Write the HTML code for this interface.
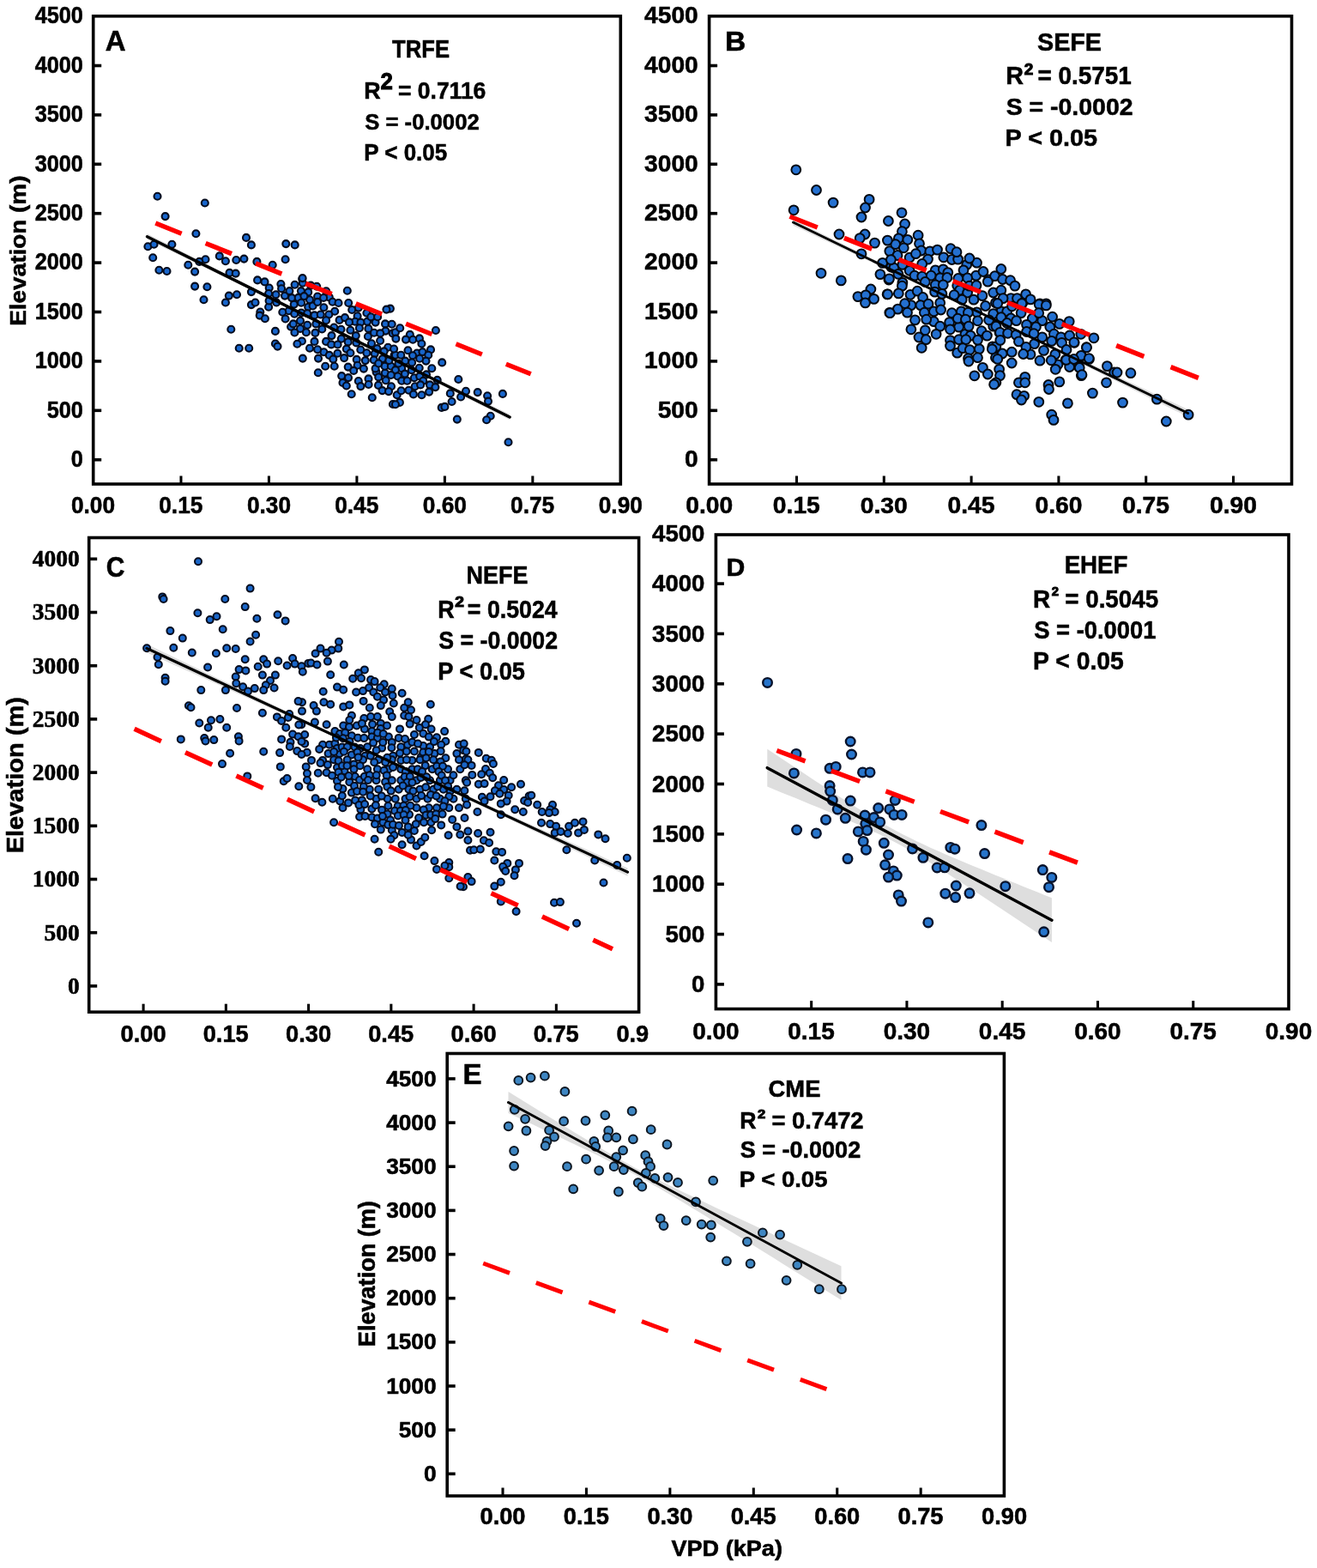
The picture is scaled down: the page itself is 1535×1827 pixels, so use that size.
<!DOCTYPE html>
<html><head><meta charset="utf-8"><title>VPD vs Elevation</title>
<style>html,body{margin:0;padding:0;background:#fff;} svg{display:block;filter:blur(0.60px);}</style></head>
<body><svg width="1535" height="1827" viewBox="0 0 1535 1827">
<rect width="1535" height="1827" fill="#fff"/>
<polygon points="171.5,272.3 182.1,277.7 192.6,283.1 203.2,288.5 213.8,293.8 224.3,299.2 234.9,304.6 245.5,310.0 256.0,315.4 266.6,320.7 277.1,326.1 287.7,331.5 298.3,336.8 308.8,342.2 319.4,347.5 330.0,352.8 340.5,358.2 351.1,363.5 361.7,368.8 372.2,374.1 382.8,379.3 393.4,384.6 403.9,389.9 414.5,395.1 425.1,400.3 435.6,405.5 446.2,410.7 456.8,415.9 467.3,421.1 477.9,426.2 488.4,431.4 499.0,436.5 509.6,441.7 520.1,446.8 530.7,452.0 541.3,457.1 551.8,462.3 562.4,467.4 573.0,472.5 583.5,477.6 594.1,482.8 594.1,489.2 583.5,483.8 573.0,478.5 562.4,473.1 551.8,467.7 541.3,462.3 530.7,456.9 520.1,451.6 509.6,446.2 499.0,440.8 488.4,435.5 477.9,430.1 467.3,424.8 456.8,419.4 446.2,414.1 435.6,408.8 425.1,403.5 414.5,398.2 403.9,392.9 393.4,387.6 382.8,382.4 372.2,377.1 361.7,371.9 351.1,366.7 340.5,361.5 330.0,356.3 319.4,351.1 308.8,345.9 298.3,340.8 287.7,335.6 277.1,330.5 266.6,325.3 256.0,320.2 245.5,315.0 234.9,309.9 224.3,304.7 213.8,299.6 203.2,294.5 192.6,289.4 182.1,284.2 171.5,279.1" fill="#dedede"/>
<g fill="#1866cc" stroke="#050c1e" stroke-width="2.1">
<circle cx="183.5" cy="228.7" r="4.0"/><circle cx="238.8" cy="236.5" r="4.0"/><circle cx="192.6" cy="252.1" r="4.0"/><circle cx="228.4" cy="272.3" r="4.0"/><circle cx="172.4" cy="287.3" r="4.0"/><circle cx="179.5" cy="284.7" r="4.0"/><circle cx="200.4" cy="284.7" r="4.0"/><circle cx="178.2" cy="300.3" r="4.0"/><circle cx="185.4" cy="314.7" r="4.0"/><circle cx="194.5" cy="316.0" r="4.0"/><circle cx="219.3" cy="308.8" r="4.0"/><circle cx="227.1" cy="316.6" r="4.0"/><circle cx="239.5" cy="302.3" r="4.0"/><circle cx="232.3" cy="304.9" r="4.0"/><circle cx="255.8" cy="298.4" r="4.0"/><circle cx="262.9" cy="304.3" r="4.0"/><circle cx="275.3" cy="303.0" r="4.0"/><circle cx="284.4" cy="301.6" r="4.0"/><circle cx="287.0" cy="276.9" r="4.0"/><circle cx="292.9" cy="285.4" r="4.0"/><circle cx="333.3" cy="284.1" r="4.0"/><circle cx="343.7" cy="285.4" r="4.0"/><circle cx="332.6" cy="302.3" r="4.0"/><circle cx="299.4" cy="304.9" r="4.0"/><circle cx="317.7" cy="308.8" r="4.0"/><circle cx="267.5" cy="317.9" r="4.0"/><circle cx="274.7" cy="318.6" r="4.0"/><circle cx="227.1" cy="333.6" r="4.0"/><circle cx="241.4" cy="334.2" r="4.0"/><circle cx="237.5" cy="349.2" r="4.0"/><circle cx="266.8" cy="344.6" r="4.0"/><circle cx="276.0" cy="343.3" r="4.0"/><circle cx="262.9" cy="352.5" r="4.0"/><circle cx="300.1" cy="326.4" r="4.0"/><circle cx="308.5" cy="328.4" r="4.0"/><circle cx="313.7" cy="335.5" r="4.0"/><circle cx="327.4" cy="331.0" r="4.0"/><circle cx="328.1" cy="336.2" r="4.0"/><circle cx="352.2" cy="325.1" r="4.0"/><circle cx="352.8" cy="329.7" r="4.0"/><circle cx="292.9" cy="340.1" r="4.0"/><circle cx="313.1" cy="342.0" r="4.0"/><circle cx="321.6" cy="343.3" r="4.0"/><circle cx="332.0" cy="344.6" r="4.0"/><circle cx="292.9" cy="355.1" r="4.0"/><circle cx="297.5" cy="352.5" r="4.0"/><circle cx="313.1" cy="357.7" r="4.0"/><circle cx="322.2" cy="352.5" r="4.0"/><circle cx="336.5" cy="362.2" r="4.0"/><circle cx="303.3" cy="363.5" r="4.0"/><circle cx="352.6" cy="324.1" r="4.0"/><circle cx="370.8" cy="434.2" r="4.0"/><circle cx="398.2" cy="438.1" r="4.0"/><circle cx="406.0" cy="440.1" r="4.0"/><circle cx="417.8" cy="444.0" r="4.0"/><circle cx="429.5" cy="441.4" r="4.0"/><circle cx="438.6" cy="433.6" r="4.0"/><circle cx="441.2" cy="439.4" r="4.0"/><circle cx="449.7" cy="443.3" r="4.0"/><circle cx="399.5" cy="445.9" r="4.0"/><circle cx="403.8" cy="449.5" r="4.0"/><circle cx="409.7" cy="459.3" r="4.0"/><circle cx="441.0" cy="448.9" r="4.0"/><circle cx="448.8" cy="434.6" r="4.0"/><circle cx="433.8" cy="463.2" r="4.0"/><circle cx="457.9" cy="471.0" r="4.0"/><circle cx="532.8" cy="488.6" r="4.0"/><circle cx="571.7" cy="484.7" r="4.0"/><circle cx="567.1" cy="489.2" r="4.0"/><circle cx="592.5" cy="515.3" r="4.0"/><circle cx="313.6" cy="350.4" r="4.0"/><circle cx="302.7" cy="367.6" r="4.0"/><circle cx="308.9" cy="371.3" r="4.0"/><circle cx="339.1" cy="380.7" r="4.0"/><circle cx="269.3" cy="383.8" r="4.0"/><circle cx="320.9" cy="385.9" r="4.0"/><circle cx="320.9" cy="400.5" r="4.0"/><circle cx="323.5" cy="403.6" r="4.0"/><circle cx="278.7" cy="405.7" r="4.0"/><circle cx="290.2" cy="405.7" r="4.0"/><circle cx="343.6" cy="331.8" r="4.0"/><circle cx="350.9" cy="339.1" r="4.0"/><circle cx="361.0" cy="349.2" r="4.0"/><circle cx="370.1" cy="345.5" r="4.0"/><circle cx="383.8" cy="346.4" r="4.0"/><circle cx="404.8" cy="338.7" r="4.0"/><circle cx="342.7" cy="354.6" r="4.0"/><circle cx="359.2" cy="357.8" r="4.0"/><circle cx="364.6" cy="356.5" r="4.0"/><circle cx="370.1" cy="351.9" r="4.0"/><circle cx="377.4" cy="358.3" r="4.0"/><circle cx="390.2" cy="362.8" r="4.0"/><circle cx="410.2" cy="361.0" r="4.0"/><circle cx="454.9" cy="359.6" r="4.0"/><circle cx="450.4" cy="360.6" r="4.0"/><circle cx="366.5" cy="367.4" r="4.0"/><circle cx="373.7" cy="366.5" r="4.0"/><circle cx="383.3" cy="366.5" r="4.0"/><circle cx="395.6" cy="372.9" r="4.0"/><circle cx="402.0" cy="370.1" r="4.0"/><circle cx="416.6" cy="368.3" r="4.0"/><circle cx="413.9" cy="374.7" r="4.0"/><circle cx="380.1" cy="373.3" r="4.0"/><circle cx="350.0" cy="373.8" r="4.0"/><circle cx="341.8" cy="377.4" r="4.0"/><circle cx="358.2" cy="378.8" r="4.0"/><circle cx="368.3" cy="377.4" r="4.0"/><circle cx="428.0" cy="374.7" r="4.0"/><circle cx="437.6" cy="375.6" r="4.0"/><circle cx="449.0" cy="377.4" r="4.0"/><circle cx="350.0" cy="382.9" r="4.0"/><circle cx="389.3" cy="381.5" r="4.0"/><circle cx="397.5" cy="383.8" r="4.0"/><circle cx="408.4" cy="384.7" r="4.0"/><circle cx="429.4" cy="382.9" r="4.0"/><circle cx="449.4" cy="385.6" r="4.0"/><circle cx="457.7" cy="388.4" r="4.0"/><circle cx="367.4" cy="387.9" r="4.0"/><circle cx="386.5" cy="391.1" r="4.0"/><circle cx="414.8" cy="391.1" r="4.0"/><circle cx="428.9" cy="392.0" r="4.0"/><circle cx="443.1" cy="397.0" r="4.0"/><circle cx="351.9" cy="397.5" r="4.0"/><circle cx="346.4" cy="400.7" r="4.0"/><circle cx="366.5" cy="397.9" r="4.0"/><circle cx="380.1" cy="397.9" r="4.0"/><circle cx="405.7" cy="398.4" r="4.0"/><circle cx="433.0" cy="400.2" r="4.0"/><circle cx="452.2" cy="404.8" r="4.0"/><circle cx="403.8" cy="406.6" r="4.0"/><circle cx="420.3" cy="407.5" r="4.0"/><circle cx="377.4" cy="410.3" r="4.0"/><circle cx="408.4" cy="411.2" r="4.0"/><circle cx="436.7" cy="412.1" r="4.0"/><circle cx="447.6" cy="409.4" r="4.0"/><circle cx="459.5" cy="413.9" r="4.0"/><circle cx="352.8" cy="417.6" r="4.0"/><circle cx="371.0" cy="417.6" r="4.0"/><circle cx="383.8" cy="413.9" r="4.0"/><circle cx="388.3" cy="418.5" r="4.0"/><circle cx="401.1" cy="417.1" r="4.0"/><circle cx="415.7" cy="418.9" r="4.0"/><circle cx="435.8" cy="419.4" r="4.0"/><circle cx="379.2" cy="426.7" r="4.0"/><circle cx="389.7" cy="426.7" r="4.0"/><circle cx="405.7" cy="427.6" r="4.0"/><circle cx="416.6" cy="425.8" r="4.0"/><circle cx="437.6" cy="429.4" r="4.0"/><circle cx="448.5" cy="426.7" r="4.0"/><circle cx="455.8" cy="426.7" r="4.0"/><circle cx="507.9" cy="385.0" r="4.0"/><circle cx="460.9" cy="387.3" r="4.0"/><circle cx="461.4" cy="394.6" r="4.0"/><circle cx="475.5" cy="408.3" r="4.0"/><circle cx="486.0" cy="411.5" r="4.0"/><circle cx="492.4" cy="410.1" r="4.0"/><circle cx="502.0" cy="407.4" r="4.0"/><circle cx="499.2" cy="413.7" r="4.0"/><circle cx="481.0" cy="414.2" r="4.0"/><circle cx="460.9" cy="413.7" r="4.0"/><circle cx="467.3" cy="413.7" r="4.0"/><circle cx="472.3" cy="420.6" r="4.0"/><circle cx="480.1" cy="422.4" r="4.0"/><circle cx="496.5" cy="420.6" r="4.0"/><circle cx="515.2" cy="422.4" r="4.0"/><circle cx="503.3" cy="429.3" r="4.0"/><circle cx="488.7" cy="428.8" r="4.0"/><circle cx="468.2" cy="429.3" r="4.0"/><circle cx="460.9" cy="431.1" r="4.0"/><circle cx="471.9" cy="435.6" r="4.0"/><circle cx="463.6" cy="438.4" r="4.0"/><circle cx="482.8" cy="440.2" r="4.0"/><circle cx="489.2" cy="438.4" r="4.0"/><circle cx="468.2" cy="443.8" r="4.0"/><circle cx="474.6" cy="443.8" r="4.0"/><circle cx="493.3" cy="443.8" r="4.0"/><circle cx="509.7" cy="442.9" r="4.0"/><circle cx="534.3" cy="442.0" r="4.0"/><circle cx="483.7" cy="450.2" r="4.0"/><circle cx="490.1" cy="448.4" r="4.0"/><circle cx="501.0" cy="448.4" r="4.0"/><circle cx="507.4" cy="451.1" r="4.0"/><circle cx="476.4" cy="454.8" r="4.0"/><circle cx="481.9" cy="459.4" r="4.0"/><circle cx="491.5" cy="460.3" r="4.0"/><circle cx="500.1" cy="456.6" r="4.0"/><circle cx="462.7" cy="460.3" r="4.0"/><circle cx="465.9" cy="468.9" r="4.0"/><circle cx="460.9" cy="471.2" r="4.0"/><circle cx="524.8" cy="458.4" r="4.0"/><circle cx="543.0" cy="455.7" r="4.0"/><circle cx="537.1" cy="462.5" r="4.0"/><circle cx="556.7" cy="457.1" r="4.0"/><circle cx="568.1" cy="461.2" r="4.0"/><circle cx="569.0" cy="467.6" r="4.0"/><circle cx="585.9" cy="458.9" r="4.0"/><circle cx="526.6" cy="468.0" r="4.0"/><circle cx="514.7" cy="474.9" r="4.0"/><circle cx="518.4" cy="473.9" r="4.0"/><circle cx="362.2" cy="332.6" r="4.0"/><circle cx="369.2" cy="333.8" r="4.0"/><circle cx="337.4" cy="339.1" r="4.0"/><circle cx="359.2" cy="340.4" r="4.0"/><circle cx="380.2" cy="339.3" r="4.0"/><circle cx="340.1" cy="347.1" r="4.0"/><circle cx="347.7" cy="346.9" r="4.0"/><circle cx="354.4" cy="345.1" r="4.0"/><circle cx="377.1" cy="347.0" r="4.0"/><circle cx="351.1" cy="352.7" r="4.0"/><circle cx="387.6" cy="351.7" r="4.0"/><circle cx="394.5" cy="353.0" r="4.0"/><circle cx="406.2" cy="353.0" r="4.0"/><circle cx="417.8" cy="358.6" r="4.0"/><circle cx="329.3" cy="363.8" r="4.0"/><circle cx="343.2" cy="365.7" r="4.0"/><circle cx="351.2" cy="364.5" r="4.0"/><circle cx="358.2" cy="365.2" r="4.0"/><circle cx="427.4" cy="364.8" r="4.0"/><circle cx="332.6" cy="371.5" r="4.0"/><circle cx="432.3" cy="369.2" r="4.0"/><circle cx="440.1" cy="369.2" r="4.0"/><circle cx="407.0" cy="375.4" r="4.0"/><circle cx="420.4" cy="375.6" r="4.0"/><circle cx="456.7" cy="377.8" r="4.0"/><circle cx="375.3" cy="383.5" r="4.0"/><circle cx="418.9" cy="382.2" r="4.0"/><circle cx="466.2" cy="382.3" r="4.0"/><circle cx="343.4" cy="387.5" r="4.0"/><circle cx="356.9" cy="387.3" r="4.0"/><circle cx="436.0" cy="387.8" r="4.0"/><circle cx="443.2" cy="388.4" r="4.0"/><circle cx="477.8" cy="389.9" r="4.0"/><circle cx="397.8" cy="394.7" r="4.0"/><circle cx="473.0" cy="395.6" r="4.0"/><circle cx="481.2" cy="395.7" r="4.0"/><circle cx="488.9" cy="394.4" r="4.0"/><circle cx="386.1" cy="401.4" r="4.0"/><circle cx="393.6" cy="401.5" r="4.0"/><circle cx="415.3" cy="399.4" r="4.0"/><circle cx="491.4" cy="400.5" r="4.0"/><circle cx="361.0" cy="405.7" r="4.0"/><circle cx="370.1" cy="407.3" r="4.0"/><circle cx="439.5" cy="406.1" r="4.0"/><circle cx="459.1" cy="406.5" r="4.0"/><circle cx="393.4" cy="411.7" r="4.0"/><circle cx="427.4" cy="411.3" r="4.0"/><circle cx="425.8" cy="420.1" r="4.0"/><circle cx="445.8" cy="418.1" r="4.0"/><circle cx="453.4" cy="420.0" r="4.0"/><circle cx="489.1" cy="417.8" r="4.0"/><circle cx="441.2" cy="423.5" r="4.0"/><circle cx="464.4" cy="423.5" r="4.0"/><circle cx="412.2" cy="431.9" r="4.0"/><circle cx="423.9" cy="429.6" r="4.0"/><circle cx="479.7" cy="431.2" r="4.0"/><circle cx="455.7" cy="437.0" r="4.0"/><circle cx="497.0" cy="436.4" r="4.0"/><circle cx="420.4" cy="450.1" r="4.0"/><circle cx="429.6" cy="448.0" r="4.0"/><circle cx="456.0" cy="450.2" r="4.0"/><circle cx="445.6" cy="455.1" r="4.0"/><circle cx="453.0" cy="456.1" r="4.0"/><circle cx="467.6" cy="455.3" r="4.0"/>
</g>
<line x1="171.5" y1="275.7" x2="594.1" y2="486.0" stroke="#000" stroke-width="3.4" stroke-linecap="round"/>
<line x1="181.3" y1="260.0" x2="618.7" y2="435.8" stroke="#ff0000" stroke-width="5.5" stroke-dasharray="32.7 30.2"/>
<polygon points="924.4,255.5 935.9,261.2 947.4,266.9 958.9,272.7 970.4,278.4 981.9,284.1 993.4,289.8 1005.0,295.5 1016.5,301.2 1028.0,306.9 1039.5,312.6 1051.0,318.3 1062.5,324.0 1074.0,329.6 1085.5,335.3 1097.0,340.9 1108.5,346.5 1120.0,352.1 1131.5,357.7 1143.0,363.2 1154.5,368.7 1166.1,374.3 1177.6,379.7 1189.1,385.2 1200.6,390.7 1212.1,396.1 1223.6,401.5 1235.1,407.0 1246.6,412.4 1258.1,417.8 1269.6,423.2 1281.1,428.6 1292.6,434.0 1304.1,439.4 1315.7,444.8 1327.2,450.2 1338.7,455.6 1350.2,461.0 1361.7,466.4 1373.2,471.8 1384.7,477.2 1384.7,485.8 1373.2,480.1 1361.7,474.4 1350.2,468.6 1338.7,462.9 1327.2,457.2 1315.7,451.5 1304.1,445.7 1292.6,440.0 1281.1,434.3 1269.6,428.6 1258.1,422.9 1246.6,417.2 1235.1,411.5 1223.6,405.8 1212.1,400.1 1200.6,394.4 1189.1,388.8 1177.6,383.1 1166.1,377.5 1154.5,371.9 1143.0,366.3 1131.5,360.7 1120.0,355.1 1108.5,349.6 1097.0,344.1 1085.5,338.6 1074.0,333.1 1062.5,327.7 1051.0,322.2 1039.5,316.8 1028.0,311.4 1016.5,305.9 1005.0,300.5 993.4,295.1 981.9,289.7 970.4,284.3 958.9,278.9 947.4,273.5 935.9,268.1 924.4,262.7" fill="#dedede"/>
<g fill="#2470d0" stroke="#04080f" stroke-width="2.0">
<circle cx="927.8" cy="197.8" r="5.4"/><circle cx="951.5" cy="221.5" r="5.4"/><circle cx="971.1" cy="236.1" r="5.4"/><circle cx="925.1" cy="244.8" r="5.4"/><circle cx="1013.1" cy="232.4" r="5.4"/><circle cx="1008.5" cy="242.0" r="5.4"/><circle cx="1004.0" cy="253.0" r="5.4"/><circle cx="1035.4" cy="257.5" r="5.4"/><circle cx="978.0" cy="273.0" r="5.4"/><circle cx="1008.1" cy="273.0" r="5.4"/><circle cx="1002.2" cy="277.6" r="5.4"/><circle cx="1019.5" cy="283.1" r="5.4"/><circle cx="1036.8" cy="292.6" r="5.4"/><circle cx="1004.0" cy="295.8" r="5.4"/><circle cx="957.0" cy="318.3" r="5.4"/><circle cx="980.3" cy="326.9" r="5.4"/><circle cx="1028.6" cy="306.4" r="5.4"/><circle cx="1025.9" cy="319.6" r="5.4"/><circle cx="1035.9" cy="326.0" r="5.4"/><circle cx="1014.9" cy="337.0" r="5.4"/><circle cx="999.9" cy="345.6" r="5.4"/><circle cx="1009.0" cy="343.8" r="5.4"/><circle cx="1018.6" cy="348.4" r="5.4"/><circle cx="1008.5" cy="352.9" r="5.4"/><circle cx="1034.1" cy="342.9" r="5.4"/><circle cx="1036.8" cy="364.3" r="5.4"/><circle cx="1038.6" cy="311.0" r="5.4"/><circle cx="1051.0" cy="247.8" r="5.4"/><circle cx="1054.6" cy="261.0" r="5.4"/><circle cx="1051.4" cy="269.7" r="5.4"/><circle cx="1070.1" cy="274.2" r="5.4"/><circle cx="1047.3" cy="277.9" r="5.4"/><circle cx="1057.8" cy="279.3" r="5.4"/><circle cx="1071.5" cy="283.8" r="5.4"/><circle cx="1043.7" cy="284.7" r="5.4"/><circle cx="1053.3" cy="288.8" r="5.4"/><circle cx="1073.8" cy="292.0" r="5.4"/><circle cx="1083.8" cy="292.9" r="5.4"/><circle cx="1092.5" cy="291.1" r="5.4"/><circle cx="1108.0" cy="289.7" r="5.4"/><circle cx="1046.0" cy="297.5" r="5.4"/><circle cx="1060.1" cy="300.2" r="5.4"/><circle cx="1067.4" cy="295.7" r="5.4"/><circle cx="1081.5" cy="302.1" r="5.4"/><circle cx="1099.8" cy="299.8" r="5.4"/><circle cx="1109.4" cy="302.5" r="5.4"/><circle cx="1116.6" cy="302.1" r="5.4"/><circle cx="1138.5" cy="306.2" r="5.4"/><circle cx="1126.7" cy="308.4" r="5.4"/><circle cx="1041.9" cy="312.1" r="5.4"/><circle cx="1051.9" cy="308.4" r="5.4"/><circle cx="1060.1" cy="315.3" r="5.4"/><circle cx="1074.7" cy="307.5" r="5.4"/><circle cx="1090.2" cy="314.8" r="5.4"/><circle cx="1099.3" cy="313.9" r="5.4"/><circle cx="1104.8" cy="317.6" r="5.4"/><circle cx="1123.0" cy="314.8" r="5.4"/><circle cx="1137.6" cy="321.2" r="5.4"/><circle cx="1127.6" cy="323.9" r="5.4"/><circle cx="1152.2" cy="325.8" r="5.4"/><circle cx="1159.5" cy="321.7" r="5.4"/><circle cx="1166.8" cy="313.5" r="5.4"/><circle cx="1036.4" cy="324.9" r="5.4"/><circle cx="1066.0" cy="321.2" r="5.4"/><circle cx="1074.7" cy="322.1" r="5.4"/><circle cx="1085.2" cy="321.2" r="5.4"/><circle cx="1095.7" cy="323.9" r="5.4"/><circle cx="1103.9" cy="323.5" r="5.4"/><circle cx="1051.9" cy="329.4" r="5.4"/><circle cx="1078.3" cy="328.5" r="5.4"/><circle cx="1051.4" cy="333.2" r="5.4"/><circle cx="1034.6" cy="342.8" r="5.4"/><circle cx="1047.3" cy="341.9" r="5.4"/><circle cx="1061.0" cy="343.3" r="5.4"/><circle cx="1069.2" cy="339.2" r="5.4"/><circle cx="1075.6" cy="346.5" r="5.4"/><circle cx="1061.9" cy="355.6" r="5.4"/><circle cx="1054.6" cy="353.7" r="5.4"/><circle cx="1072.9" cy="355.6" r="5.4"/><circle cx="1082.0" cy="354.2" r="5.4"/><circle cx="1046.4" cy="360.1" r="5.4"/><circle cx="1037.3" cy="364.7" r="5.4"/><circle cx="1077.4" cy="364.2" r="5.4"/><circle cx="1088.4" cy="362.9" r="5.4"/><circle cx="1095.7" cy="352.8" r="5.4"/><circle cx="1096.6" cy="361.0" r="5.4"/><circle cx="1109.4" cy="364.7" r="5.4"/><circle cx="1120.3" cy="362.9" r="5.4"/><circle cx="1066.5" cy="372.9" r="5.4"/><circle cx="1088.4" cy="374.7" r="5.4"/><circle cx="1106.6" cy="375.6" r="5.4"/><circle cx="1095.7" cy="380.2" r="5.4"/><circle cx="1061.9" cy="383.8" r="5.4"/><circle cx="1078.3" cy="384.8" r="5.4"/><circle cx="1091.1" cy="389.3" r="5.4"/><circle cx="1117.6" cy="381.1" r="5.4"/><circle cx="1071.0" cy="393.0" r="5.4"/><circle cx="1079.3" cy="395.7" r="5.4"/><circle cx="1107.5" cy="383.8" r="5.4"/><circle cx="1107.5" cy="396.6" r="5.4"/><circle cx="1124.9" cy="389.3" r="5.4"/><circle cx="1131.2" cy="391.1" r="5.4"/><circle cx="1117.6" cy="395.7" r="5.4"/><circle cx="1125.8" cy="395.7" r="5.4"/><circle cx="1074.2" cy="405.3" r="5.4"/><circle cx="1107.5" cy="403.0" r="5.4"/><circle cx="1115.7" cy="411.2" r="5.4"/><circle cx="1122.1" cy="405.7" r="5.4"/><circle cx="1130.3" cy="407.6" r="5.4"/><circle cx="1141.3" cy="406.6" r="5.4"/><circle cx="1128.5" cy="417.6" r="5.4"/><circle cx="1139.5" cy="416.7" r="5.4"/><circle cx="1090.2" cy="331.9" r="5.4"/><circle cx="1099.3" cy="331.9" r="5.4"/><circle cx="1115.7" cy="332.8" r="5.4"/><circle cx="1151.3" cy="328.2" r="5.4"/><circle cx="1168.6" cy="325.5" r="5.4"/><circle cx="1118.5" cy="338.2" r="5.4"/><circle cx="1127.6" cy="341.0" r="5.4"/><circle cx="1134.9" cy="349.2" r="5.4"/><circle cx="1121.2" cy="349.2" r="5.4"/><circle cx="1112.1" cy="343.7" r="5.4"/><circle cx="1144.9" cy="344.6" r="5.4"/><circle cx="1157.7" cy="341.0" r="5.4"/><circle cx="1166.8" cy="338.2" r="5.4"/><circle cx="1148.6" cy="356.5" r="5.4"/><circle cx="1160.4" cy="352.8" r="5.4"/><circle cx="1166.8" cy="362.9" r="5.4"/><circle cx="1157.7" cy="365.6" r="5.4"/><circle cx="1138.5" cy="363.8" r="5.4"/><circle cx="1139.5" cy="373.8" r="5.4"/><circle cx="1157.7" cy="380.2" r="5.4"/><circle cx="1144.0" cy="385.7" r="5.4"/><circle cx="1150.4" cy="391.1" r="5.4"/><circle cx="1165.0" cy="387.5" r="5.4"/><circle cx="1156.8" cy="403.9" r="5.4"/><circle cx="1166.8" cy="412.1" r="5.4"/><circle cx="1160.4" cy="416.7" r="5.4"/><circle cx="1178.2" cy="347.6" r="5.4"/><circle cx="1185.5" cy="347.6" r="5.4"/><circle cx="1191.9" cy="353.0" r="5.4"/><circle cx="1212.0" cy="353.9" r="5.4"/><circle cx="1219.3" cy="353.9" r="5.4"/><circle cx="1169.1" cy="347.6" r="5.4"/><circle cx="1162.7" cy="353.6" r="5.4"/><circle cx="1173.7" cy="362.8" r="5.4"/><circle cx="1191.0" cy="353.6" r="5.4"/><circle cx="1190.1" cy="364.6" r="5.4"/><circle cx="1211.1" cy="354.6" r="5.4"/><circle cx="1219.3" cy="355.9" r="5.4"/><circle cx="1226.6" cy="369.2" r="5.4"/><circle cx="1166.8" cy="369.6" r="5.4"/><circle cx="1178.2" cy="371.0" r="5.4"/><circle cx="1184.6" cy="373.7" r="5.4"/><circle cx="1203.3" cy="371.0" r="5.4"/><circle cx="1214.7" cy="373.7" r="5.4"/><circle cx="1234.8" cy="377.4" r="5.4"/><circle cx="1246.2" cy="374.6" r="5.4"/><circle cx="1160.9" cy="380.1" r="5.4"/><circle cx="1173.7" cy="376.5" r="5.4"/><circle cx="1196.5" cy="378.3" r="5.4"/><circle cx="1207.4" cy="381.0" r="5.4"/><circle cx="1223.8" cy="381.0" r="5.4"/><circle cx="1165.5" cy="387.4" r="5.4"/><circle cx="1174.6" cy="388.3" r="5.4"/><circle cx="1184.2" cy="390.1" r="5.4"/><circle cx="1196.5" cy="386.5" r="5.4"/><circle cx="1214.7" cy="392.9" r="5.4"/><circle cx="1228.4" cy="389.2" r="5.4"/><circle cx="1236.6" cy="392.9" r="5.4"/><circle cx="1246.6" cy="391.0" r="5.4"/><circle cx="1274.9" cy="393.8" r="5.4"/><circle cx="1187.4" cy="397.9" r="5.4"/><circle cx="1205.6" cy="400.6" r="5.4"/><circle cx="1225.7" cy="397.4" r="5.4"/><circle cx="1237.5" cy="399.3" r="5.4"/><circle cx="1252.1" cy="399.3" r="5.4"/><circle cx="1266.3" cy="404.7" r="5.4"/><circle cx="1168.2" cy="412.0" r="5.4"/><circle cx="1179.2" cy="410.2" r="5.4"/><circle cx="1201.0" cy="412.9" r="5.4"/><circle cx="1216.5" cy="408.4" r="5.4"/><circle cx="1229.8" cy="412.9" r="5.4"/><circle cx="1243.0" cy="407.5" r="5.4"/><circle cx="1260.3" cy="414.8" r="5.4"/><circle cx="1269.4" cy="418.4" r="5.4"/><circle cx="1160.9" cy="403.8" r="5.4"/><circle cx="1162.7" cy="418.4" r="5.4"/><circle cx="1179.2" cy="423.0" r="5.4"/><circle cx="1212.0" cy="420.2" r="5.4"/><circle cx="1242.1" cy="419.3" r="5.4"/><circle cx="1233.0" cy="424.8" r="5.4"/><circle cx="1246.6" cy="427.5" r="5.4"/><circle cx="1257.6" cy="427.5" r="5.4"/><circle cx="1290.4" cy="426.6" r="5.4"/><circle cx="1164.6" cy="430.3" r="5.4"/><circle cx="1230.2" cy="430.3" r="5.4"/><circle cx="1260.3" cy="437.6" r="5.4"/><circle cx="1165.5" cy="437.6" r="5.4"/><circle cx="1194.7" cy="439.4" r="5.4"/><circle cx="1187.4" cy="445.8" r="5.4"/><circle cx="1194.7" cy="445.8" r="5.4"/><circle cx="1234.8" cy="444.9" r="5.4"/><circle cx="1222.0" cy="448.5" r="5.4"/><circle cx="1289.5" cy="445.8" r="5.4"/><circle cx="1298.6" cy="433.9" r="5.4"/><circle cx="1160.9" cy="445.8" r="5.4"/><circle cx="1156.3" cy="406.8" r="5.4"/><circle cx="1129.0" cy="421.0" r="5.4"/><circle cx="1145.4" cy="428.3" r="5.4"/><circle cx="1151.3" cy="436.0" r="5.4"/><circle cx="1135.8" cy="437.8" r="5.4"/><circle cx="1158.6" cy="447.9" r="5.4"/><circle cx="1185.0" cy="459.7" r="5.4"/><circle cx="1193.6" cy="461.3" r="5.4"/><circle cx="1190.5" cy="466.0" r="5.4"/><circle cx="1210.8" cy="468.3" r="5.4"/><circle cx="1222.5" cy="453.5" r="5.4"/><circle cx="1244.4" cy="469.9" r="5.4"/><circle cx="1273.4" cy="458.1" r="5.4"/><circle cx="1317.9" cy="434.7" r="5.4"/><circle cx="1308.5" cy="469.1" r="5.4"/><circle cx="1348.4" cy="465.2" r="5.4"/><circle cx="1385.1" cy="483.2" r="5.4"/><circle cx="1359.3" cy="491.0" r="5.4"/><circle cx="1225.7" cy="483.2" r="5.4"/><circle cx="1228.0" cy="489.4" r="5.4"/><circle cx="1251.9" cy="398.9" r="5.4"/><circle cx="1266.5" cy="404.8" r="5.4"/><circle cx="1260.1" cy="414.4" r="5.4"/><circle cx="1269.2" cy="417.6" r="5.4"/><circle cx="1242.7" cy="419.4" r="5.4"/><circle cx="1258.2" cy="428.5" r="5.4"/><circle cx="1302.0" cy="434.0" r="5.4"/><circle cx="1261.0" cy="436.7" r="5.4"/><circle cx="1034.4" cy="280.1" r="5.4"/><circle cx="1115.0" cy="293.7" r="5.4"/><circle cx="1038.4" cy="302.6" r="5.4"/><circle cx="1129.9" cy="301.0" r="5.4"/><circle cx="1046.9" cy="319.3" r="5.4"/><circle cx="1146.0" cy="316.5" r="5.4"/><circle cx="1116.8" cy="324.5" r="5.4"/><circle cx="1177.6" cy="326.7" r="5.4"/><circle cx="1129.8" cy="333.2" r="5.4"/><circle cx="1138.0" cy="332.6" r="5.4"/><circle cx="1182.9" cy="333.1" r="5.4"/><circle cx="1089.6" cy="340.2" r="5.4"/><circle cx="1097.9" cy="342.4" r="5.4"/><circle cx="1195.6" cy="342.8" r="5.4"/><circle cx="1201.1" cy="348.9" r="5.4"/><circle cx="1179.5" cy="356.8" r="5.4"/><circle cx="1057.5" cy="364.2" r="5.4"/><circle cx="1128.4" cy="364.2" r="5.4"/><circle cx="1210.7" cy="364.7" r="5.4"/><circle cx="1079.7" cy="372.2" r="5.4"/><circle cx="1116.3" cy="371.2" r="5.4"/><circle cx="1125.4" cy="372.2" r="5.4"/><circle cx="1152.6" cy="372.8" r="5.4"/><circle cx="1129.1" cy="380.1" r="5.4"/><circle cx="1205.0" cy="388.7" r="5.4"/><circle cx="1259.8" cy="389.3" r="5.4"/><circle cx="1139.5" cy="396.1" r="5.4"/><circle cx="1165.8" cy="396.4" r="5.4"/><circle cx="1195.9" cy="404.3" r="5.4"/><circle cx="1192.7" cy="412.5" r="5.4"/><circle cx="1225.2" cy="419.8" r="5.4"/><circle cx="1251.6" cy="418.5" r="5.4"/>
</g>
<line x1="924.4" y1="259.1" x2="1384.7" y2="481.5" stroke="#000" stroke-width="2.8" stroke-linecap="round"/>
<line x1="920.5" y1="252.3" x2="1399.3" y2="441.4" stroke="#ff0000" stroke-width="5.5" stroke-dasharray="34.7 33.5"/>
<polygon points="171.0,750.5 185.0,757.3 199.0,764.0 213.0,770.7 227.1,777.5 241.1,784.2 255.1,790.9 269.1,797.6 283.1,804.3 297.1,811.1 311.1,817.8 325.1,824.5 339.1,831.2 353.2,837.9 367.2,844.5 381.2,851.2 395.2,857.9 409.2,864.5 423.2,871.1 437.2,877.7 451.2,884.2 465.3,890.8 479.3,897.3 493.3,903.7 507.3,910.1 521.3,916.5 535.3,922.9 549.3,929.3 563.4,935.7 577.4,942.0 591.4,948.3 605.4,954.7 619.4,961.0 633.4,967.3 647.4,973.6 661.4,980.0 675.5,986.3 689.5,992.6 703.5,998.9 717.5,1005.2 731.5,1011.5 731.5,1020.7 717.5,1014.0 703.5,1007.2 689.5,1000.5 675.5,993.8 661.4,987.1 647.4,980.3 633.4,973.6 619.4,966.9 605.4,960.2 591.4,953.5 577.4,946.8 563.4,940.1 549.3,933.4 535.3,926.8 521.3,920.1 507.3,913.5 493.3,906.9 479.3,900.3 465.3,893.8 451.2,887.3 437.2,880.8 423.2,874.3 409.2,867.9 395.2,861.5 381.2,855.1 367.2,848.8 353.2,842.4 339.1,836.1 325.1,829.7 311.1,823.4 297.1,817.1 283.1,810.7 269.1,804.4 255.1,798.1 241.1,791.8 227.1,785.5 213.0,779.2 199.0,772.9 185.0,766.6 171.0,760.3" fill="#dedede"/>
<g fill="#1a66c8" stroke="#050c1e" stroke-width="2.0">
<circle cx="231.0" cy="654.3" r="4.0"/><circle cx="189.3" cy="695.4" r="4.0"/><circle cx="190.6" cy="698.0" r="4.0"/><circle cx="291.6" cy="685.6" r="4.0"/><circle cx="262.3" cy="698.0" r="4.0"/><circle cx="285.7" cy="707.1" r="4.0"/><circle cx="230.4" cy="714.3" r="4.0"/><circle cx="244.7" cy="722.1" r="4.0"/><circle cx="252.5" cy="718.2" r="4.0"/><circle cx="299.4" cy="720.8" r="4.0"/><circle cx="323.5" cy="716.2" r="4.0"/><circle cx="332.6" cy="723.4" r="4.0"/><circle cx="259.7" cy="733.2" r="4.0"/><circle cx="198.4" cy="735.1" r="4.0"/><circle cx="212.8" cy="743.6" r="4.0"/><circle cx="298.1" cy="739.7" r="4.0"/><circle cx="291.6" cy="747.5" r="4.0"/><circle cx="202.3" cy="754.7" r="4.0"/><circle cx="171.1" cy="755.3" r="4.0"/><circle cx="223.8" cy="760.5" r="4.0"/><circle cx="251.9" cy="761.2" r="4.0"/><circle cx="264.2" cy="755.3" r="4.0"/><circle cx="274.7" cy="756.0" r="4.0"/><circle cx="183.5" cy="765.7" r="4.0"/><circle cx="184.8" cy="774.2" r="4.0"/><circle cx="242.1" cy="777.5" r="4.0"/><circle cx="285.7" cy="768.3" r="4.0"/><circle cx="278.6" cy="780.1" r="4.0"/><circle cx="286.4" cy="781.4" r="4.0"/><circle cx="307.2" cy="768.3" r="4.0"/><circle cx="311.1" cy="773.6" r="4.0"/><circle cx="300.7" cy="776.8" r="4.0"/><circle cx="324.2" cy="770.3" r="4.0"/><circle cx="334.6" cy="775.5" r="4.0"/><circle cx="341.1" cy="767.0" r="4.0"/><circle cx="343.7" cy="773.6" r="4.0"/><circle cx="351.5" cy="776.2" r="4.0"/><circle cx="352.8" cy="782.7" r="4.0"/><circle cx="359.3" cy="772.9" r="4.0"/><circle cx="274.7" cy="788.5" r="4.0"/><circle cx="305.9" cy="786.6" r="4.0"/><circle cx="320.9" cy="786.6" r="4.0"/><circle cx="192.6" cy="789.8" r="4.0"/><circle cx="395.0" cy="747.8" r="4.0"/><circle cx="394.3" cy="755.6" r="4.0"/><circle cx="386.5" cy="757.6" r="4.0"/><circle cx="380.6" cy="760.8" r="4.0"/><circle cx="373.5" cy="755.6" r="4.0"/><circle cx="367.6" cy="761.5" r="4.0"/><circle cx="362.4" cy="772.6" r="4.0"/><circle cx="369.5" cy="774.5" r="4.0"/><circle cx="381.9" cy="770.6" r="4.0"/><circle cx="400.8" cy="774.5" r="4.0"/><circle cx="385.2" cy="786.3" r="4.0"/><circle cx="424.9" cy="780.4" r="4.0"/><circle cx="417.8" cy="784.3" r="4.0"/><circle cx="411.2" cy="790.8" r="4.0"/><circle cx="421.0" cy="790.2" r="4.0"/><circle cx="432.1" cy="792.1" r="4.0"/><circle cx="436.6" cy="794.1" r="4.0"/><circle cx="447.7" cy="797.3" r="4.0"/><circle cx="456.8" cy="802.5" r="4.0"/><circle cx="468.6" cy="807.8" r="4.0"/><circle cx="393.0" cy="800.6" r="4.0"/><circle cx="400.2" cy="803.8" r="4.0"/><circle cx="376.7" cy="805.8" r="4.0"/><circle cx="415.1" cy="806.5" r="4.0"/><circle cx="423.0" cy="805.1" r="4.0"/><circle cx="430.1" cy="801.2" r="4.0"/><circle cx="435.3" cy="806.5" r="4.0"/><circle cx="439.9" cy="811.7" r="4.0"/><circle cx="443.2" cy="801.2" r="4.0"/><circle cx="449.0" cy="806.5" r="4.0"/><circle cx="457.5" cy="810.4" r="4.0"/><circle cx="423.6" cy="816.9" r="4.0"/><circle cx="447.1" cy="815.6" r="4.0"/><circle cx="458.8" cy="819.5" r="4.0"/><circle cx="443.8" cy="822.1" r="4.0"/><circle cx="352.0" cy="818.2" r="4.0"/><circle cx="352.0" cy="828.6" r="4.0"/><circle cx="365.6" cy="822.1" r="4.0"/><circle cx="368.9" cy="828.6" r="4.0"/><circle cx="377.4" cy="818.2" r="4.0"/><circle cx="385.2" cy="820.8" r="4.0"/><circle cx="400.2" cy="823.4" r="4.0"/><circle cx="407.3" cy="821.4" r="4.0"/><circle cx="430.8" cy="824.7" r="4.0"/><circle cx="454.2" cy="829.3" r="4.0"/><circle cx="456.8" cy="835.1" r="4.0"/><circle cx="471.2" cy="824.7" r="4.0"/><circle cx="475.7" cy="818.2" r="4.0"/><circle cx="479.0" cy="827.3" r="4.0"/><circle cx="501.8" cy="820.8" r="4.0"/><circle cx="409.9" cy="833.8" r="4.0"/><circle cx="424.3" cy="837.1" r="4.0"/><circle cx="432.1" cy="835.1" r="4.0"/><circle cx="439.9" cy="835.1" r="4.0"/><circle cx="471.2" cy="833.8" r="4.0"/><circle cx="476.4" cy="835.1" r="4.0"/><circle cx="485.5" cy="839.0" r="4.0"/><circle cx="499.2" cy="837.7" r="4.0"/><circle cx="366.9" cy="841.6" r="4.0"/><circle cx="380.6" cy="844.2" r="4.0"/><circle cx="400.2" cy="845.5" r="4.0"/><circle cx="407.3" cy="839.0" r="4.0"/><circle cx="443.8" cy="842.9" r="4.0"/><circle cx="451.0" cy="845.5" r="4.0"/><circle cx="477.7" cy="843.6" r="4.0"/><circle cx="495.9" cy="844.2" r="4.0"/><circle cx="351.3" cy="844.2" r="4.0"/><circle cx="390.4" cy="852.1" r="4.0"/><circle cx="415.8" cy="845.5" r="4.0"/><circle cx="424.9" cy="849.4" r="4.0"/><circle cx="433.4" cy="852.1" r="4.0"/><circle cx="466.0" cy="849.4" r="4.0"/><circle cx="482.9" cy="856.0" r="4.0"/><circle cx="493.3" cy="854.7" r="4.0"/><circle cx="518.1" cy="852.1" r="4.0"/><circle cx="355.2" cy="856.0" r="4.0"/><circle cx="409.9" cy="857.3" r="4.0"/><circle cx="433.4" cy="858.6" r="4.0"/><circle cx="439.9" cy="859.9" r="4.0"/><circle cx="452.9" cy="858.6" r="4.0"/><circle cx="464.7" cy="859.9" r="4.0"/><circle cx="499.8" cy="858.6" r="4.0"/><circle cx="509.0" cy="859.2" r="4.0"/><circle cx="519.4" cy="863.8" r="4.0"/><circle cx="355.2" cy="866.4" r="4.0"/><circle cx="376.1" cy="867.7" r="4.0"/><circle cx="383.9" cy="867.7" r="4.0"/><circle cx="390.4" cy="866.4" r="4.0"/><circle cx="428.2" cy="870.3" r="4.0"/><circle cx="445.1" cy="871.6" r="4.0"/><circle cx="456.8" cy="865.1" r="4.0"/><circle cx="467.3" cy="870.3" r="4.0"/><circle cx="475.1" cy="867.7" r="4.0"/><circle cx="482.9" cy="875.5" r="4.0"/><circle cx="493.3" cy="869.0" r="4.0"/><circle cx="501.1" cy="870.3" r="4.0"/><circle cx="514.2" cy="867.7" r="4.0"/><circle cx="535.0" cy="867.7" r="4.0"/><circle cx="540.2" cy="874.2" r="4.0"/><circle cx="372.2" cy="872.9" r="4.0"/><circle cx="382.6" cy="878.1" r="4.0"/><circle cx="395.6" cy="878.1" r="4.0"/><circle cx="409.9" cy="879.4" r="4.0"/><circle cx="425.6" cy="880.7" r="4.0"/><circle cx="438.6" cy="874.2" r="4.0"/><circle cx="458.1" cy="880.7" r="4.0"/><circle cx="473.8" cy="875.5" r="4.0"/><circle cx="490.7" cy="882.0" r="4.0"/><circle cx="506.4" cy="878.1" r="4.0"/><circle cx="519.4" cy="883.3" r="4.0"/><circle cx="532.4" cy="878.1" r="4.0"/><circle cx="542.8" cy="884.6" r="4.0"/><circle cx="357.8" cy="876.8" r="4.0"/><circle cx="363.0" cy="885.9" r="4.0"/><circle cx="376.1" cy="885.9" r="4.0"/><circle cx="467.3" cy="885.9" r="4.0"/><circle cx="480.3" cy="885.9" r="4.0"/><circle cx="192.6" cy="793.7" r="4.0"/><circle cx="234.3" cy="804.1" r="4.0"/><circle cx="262.9" cy="804.1" r="4.0"/><circle cx="219.9" cy="822.3" r="4.0"/><circle cx="222.5" cy="824.3" r="4.0"/><circle cx="276.0" cy="825.0" r="4.0"/><circle cx="305.9" cy="830.8" r="4.0"/><circle cx="232.3" cy="842.5" r="4.0"/><circle cx="246.0" cy="839.3" r="4.0"/><circle cx="256.4" cy="838.0" r="4.0"/><circle cx="242.7" cy="847.8" r="4.0"/><circle cx="264.2" cy="847.8" r="4.0"/><circle cx="210.8" cy="861.4" r="4.0"/><circle cx="238.2" cy="860.1" r="4.0"/><circle cx="239.5" cy="863.4" r="4.0"/><circle cx="249.3" cy="862.1" r="4.0"/><circle cx="277.9" cy="858.2" r="4.0"/><circle cx="278.6" cy="863.4" r="4.0"/><circle cx="268.1" cy="877.7" r="4.0"/><circle cx="259.0" cy="890.1" r="4.0"/><circle cx="288.3" cy="904.4" r="4.0"/><circle cx="307.2" cy="875.8" r="4.0"/><circle cx="326.1" cy="877.1" r="4.0"/><circle cx="326.8" cy="893.4" r="4.0"/><circle cx="330.7" cy="910.3" r="4.0"/><circle cx="334.6" cy="907.0" r="4.0"/><circle cx="348.3" cy="916.2" r="4.0"/><circle cx="328.1" cy="861.4" r="4.0"/><circle cx="275.3" cy="796.3" r="4.0"/><circle cx="283.1" cy="800.2" r="4.0"/><circle cx="289.0" cy="805.4" r="4.0"/><circle cx="296.8" cy="802.1" r="4.0"/><circle cx="315.0" cy="793.0" r="4.0"/><circle cx="309.8" cy="798.2" r="4.0"/><circle cx="307.2" cy="804.1" r="4.0"/><circle cx="319.6" cy="801.5" r="4.0"/><circle cx="347.6" cy="817.1" r="4.0"/><circle cx="322.9" cy="835.4" r="4.0"/><circle cx="328.1" cy="839.9" r="4.0"/><circle cx="337.2" cy="832.1" r="4.0"/><circle cx="335.9" cy="836.0" r="4.0"/><circle cx="348.3" cy="844.5" r="4.0"/><circle cx="333.3" cy="847.8" r="4.0"/><circle cx="341.1" cy="855.6" r="4.0"/><circle cx="347.6" cy="858.2" r="4.0"/><circle cx="338.5" cy="864.7" r="4.0"/><circle cx="337.8" cy="869.9" r="4.0"/><circle cx="351.5" cy="864.0" r="4.0"/><circle cx="346.3" cy="875.1" r="4.0"/><circle cx="351.5" cy="879.0" r="4.0"/><circle cx="356.7" cy="893.4" r="4.0"/><circle cx="358.0" cy="901.2" r="4.0"/><circle cx="358.0" cy="909.0" r="4.0"/><circle cx="362.4" cy="917.1" r="4.0"/><circle cx="370.8" cy="900.8" r="4.0"/><circle cx="380.6" cy="900.2" r="4.0"/><circle cx="373.5" cy="889.1" r="4.0"/><circle cx="381.9" cy="891.1" r="4.0"/><circle cx="393.0" cy="894.3" r="4.0"/><circle cx="401.5" cy="898.2" r="4.0"/><circle cx="412.5" cy="890.4" r="4.0"/><circle cx="393.0" cy="910.0" r="4.0"/><circle cx="399.5" cy="919.1" r="4.0"/><circle cx="407.3" cy="911.3" r="4.0"/><circle cx="413.8" cy="904.8" r="4.0"/><circle cx="419.1" cy="908.7" r="4.0"/><circle cx="409.9" cy="923.6" r="4.0"/><circle cx="367.6" cy="930.2" r="4.0"/><circle cx="375.4" cy="934.7" r="4.0"/><circle cx="387.8" cy="930.8" r="4.0"/><circle cx="396.3" cy="933.4" r="4.0"/><circle cx="406.0" cy="935.4" r="4.0"/><circle cx="399.5" cy="941.2" r="4.0"/><circle cx="420.4" cy="943.2" r="4.0"/><circle cx="419.1" cy="951.7" r="4.0"/><circle cx="433.4" cy="942.5" r="4.0"/><circle cx="433.4" cy="952.3" r="4.0"/><circle cx="439.9" cy="953.6" r="4.0"/><circle cx="445.1" cy="943.8" r="4.0"/><circle cx="451.6" cy="948.4" r="4.0"/><circle cx="446.4" cy="958.2" r="4.0"/><circle cx="443.8" cy="966.6" r="4.0"/><circle cx="389.1" cy="958.2" r="4.0"/><circle cx="436.6" cy="977.7" r="4.0"/><circle cx="441.2" cy="992.7" r="4.0"/><circle cx="456.8" cy="967.3" r="4.0"/><circle cx="459.4" cy="973.2" r="4.0"/><circle cx="455.5" cy="977.7" r="4.0"/><circle cx="468.6" cy="984.2" r="4.0"/><circle cx="468.6" cy="969.9" r="4.0"/><circle cx="475.7" cy="963.4" r="4.0"/><circle cx="482.9" cy="968.0" r="4.0"/><circle cx="479.0" cy="978.4" r="4.0"/><circle cx="485.5" cy="985.5" r="4.0"/><circle cx="490.7" cy="981.0" r="4.0"/><circle cx="495.3" cy="975.8" r="4.0"/><circle cx="477.0" cy="949.1" r="4.0"/><circle cx="488.1" cy="953.0" r="4.0"/><circle cx="494.0" cy="958.2" r="4.0"/><circle cx="502.4" cy="958.2" r="4.0"/><circle cx="503.1" cy="967.3" r="4.0"/><circle cx="514.2" cy="961.4" r="4.0"/><circle cx="522.6" cy="973.2" r="4.0"/><circle cx="527.2" cy="954.9" r="4.0"/><circle cx="532.4" cy="963.4" r="4.0"/><circle cx="541.5" cy="953.0" r="4.0"/><circle cx="545.4" cy="968.6" r="4.0"/><circle cx="536.3" cy="972.5" r="4.0"/><circle cx="545.4" cy="979.0" r="4.0"/><circle cx="548.0" cy="990.7" r="4.0"/><circle cx="494.6" cy="997.3" r="4.0"/><circle cx="506.4" cy="1003.1" r="4.0"/><circle cx="509.0" cy="1012.9" r="4.0"/><circle cx="523.3" cy="1005.1" r="4.0"/><circle cx="523.3" cy="1010.3" r="4.0"/><circle cx="523.3" cy="1023.3" r="4.0"/><circle cx="545.4" cy="1022.0" r="4.0"/><circle cx="389.1" cy="885.2" r="4.0"/><circle cx="404.7" cy="885.2" r="4.0"/><circle cx="423.0" cy="885.2" r="4.0"/><circle cx="441.2" cy="885.2" r="4.0"/><circle cx="456.8" cy="885.2" r="4.0"/><circle cx="473.8" cy="885.2" r="4.0"/><circle cx="489.5" cy="885.2" r="4.0"/><circle cx="505.1" cy="885.2" r="4.0"/><circle cx="535.0" cy="885.2" r="4.0"/><circle cx="545.4" cy="885.2" r="4.0"/><circle cx="412.5" cy="896.3" r="4.0"/><circle cx="428.2" cy="896.3" r="4.0"/><circle cx="439.9" cy="896.3" r="4.0"/><circle cx="452.9" cy="896.3" r="4.0"/><circle cx="467.3" cy="896.3" r="4.0"/><circle cx="480.3" cy="896.3" r="4.0"/><circle cx="486.8" cy="896.3" r="4.0"/><circle cx="503.8" cy="896.3" r="4.0"/><circle cx="522.0" cy="896.3" r="4.0"/><circle cx="536.3" cy="896.3" r="4.0"/><circle cx="438.6" cy="909.3" r="4.0"/><circle cx="456.8" cy="909.3" r="4.0"/><circle cx="467.3" cy="909.3" r="4.0"/><circle cx="485.5" cy="909.3" r="4.0"/><circle cx="501.1" cy="909.3" r="4.0"/><circle cx="512.9" cy="909.3" r="4.0"/><circle cx="524.6" cy="909.3" r="4.0"/><circle cx="542.8" cy="909.3" r="4.0"/><circle cx="430.8" cy="919.7" r="4.0"/><circle cx="441.2" cy="919.7" r="4.0"/><circle cx="464.7" cy="919.7" r="4.0"/><circle cx="476.4" cy="919.7" r="4.0"/><circle cx="489.4" cy="919.7" r="4.0"/><circle cx="505.1" cy="919.7" r="4.0"/><circle cx="516.8" cy="919.7" r="4.0"/><circle cx="532.4" cy="919.7" r="4.0"/><circle cx="438.6" cy="930.8" r="4.0"/><circle cx="451.6" cy="930.8" r="4.0"/><circle cx="460.7" cy="930.8" r="4.0"/><circle cx="472.5" cy="930.8" r="4.0"/><circle cx="485.5" cy="930.8" r="4.0"/><circle cx="498.5" cy="930.8" r="4.0"/><circle cx="512.9" cy="930.8" r="4.0"/><circle cx="528.5" cy="930.8" r="4.0"/><circle cx="542.8" cy="930.8" r="4.0"/><circle cx="485.5" cy="941.2" r="4.0"/><circle cx="499.8" cy="941.2" r="4.0"/><circle cx="509.0" cy="941.2" r="4.0"/><circle cx="523.3" cy="941.2" r="4.0"/><circle cx="535.0" cy="941.2" r="4.0"/><circle cx="540.7" cy="866.6" r="4.0"/><circle cx="543.4" cy="875.5" r="4.0"/><circle cx="557.8" cy="876.9" r="4.0"/><circle cx="566.7" cy="883.7" r="4.0"/><circle cx="572.8" cy="885.8" r="4.0"/><circle cx="574.9" cy="889.9" r="4.0"/><circle cx="549.6" cy="891.9" r="4.0"/><circle cx="541.4" cy="891.2" r="4.0"/><circle cx="566.0" cy="896.0" r="4.0"/><circle cx="550.3" cy="902.9" r="4.0"/><circle cx="561.2" cy="902.2" r="4.0"/><circle cx="570.8" cy="900.8" r="4.0"/><circle cx="574.2" cy="906.3" r="4.0"/><circle cx="544.1" cy="911.8" r="4.0"/><circle cx="557.8" cy="913.8" r="4.0"/><circle cx="564.6" cy="913.1" r="4.0"/><circle cx="587.2" cy="909.0" r="4.0"/><circle cx="581.0" cy="915.2" r="4.0"/><circle cx="596.1" cy="917.2" r="4.0"/><circle cx="607.0" cy="913.8" r="4.0"/><circle cx="576.9" cy="921.3" r="4.0"/><circle cx="587.2" cy="920.0" r="4.0"/><circle cx="541.4" cy="921.3" r="4.0"/><circle cx="561.9" cy="928.8" r="4.0"/><circle cx="571.5" cy="928.2" r="4.0"/><circle cx="582.4" cy="924.7" r="4.0"/><circle cx="592.7" cy="926.8" r="4.0"/><circle cx="590.6" cy="933.6" r="4.0"/><circle cx="583.8" cy="936.4" r="4.0"/><circle cx="616.6" cy="927.5" r="4.0"/><circle cx="619.3" cy="926.8" r="4.0"/><circle cx="611.1" cy="933.0" r="4.0"/><circle cx="615.2" cy="935.0" r="4.0"/><circle cx="626.2" cy="937.7" r="4.0"/><circle cx="644.0" cy="937.7" r="4.0"/><circle cx="641.2" cy="943.2" r="4.0"/><circle cx="631.7" cy="946.0" r="4.0"/><circle cx="646.7" cy="946.0" r="4.0"/><circle cx="600.2" cy="943.2" r="4.0"/><circle cx="609.8" cy="946.0" r="4.0"/><circle cx="544.1" cy="937.7" r="4.0"/><circle cx="556.4" cy="946.0" r="4.0"/><circle cx="564.6" cy="933.6" r="4.0"/><circle cx="583.8" cy="949.2" r="4.0"/><circle cx="639.9" cy="947.1" r="4.0"/><circle cx="631.0" cy="958.7" r="4.0"/><circle cx="641.2" cy="960.1" r="4.0"/><circle cx="648.1" cy="962.8" r="4.0"/><circle cx="646.7" cy="970.4" r="4.0"/><circle cx="653.5" cy="969.0" r="4.0"/><circle cx="661.8" cy="971.0" r="4.0"/><circle cx="663.1" cy="962.8" r="4.0"/><circle cx="670.0" cy="958.7" r="4.0"/><circle cx="679.5" cy="957.4" r="4.0"/><circle cx="674.1" cy="970.4" r="4.0"/><circle cx="680.9" cy="966.9" r="4.0"/><circle cx="697.3" cy="972.4" r="4.0"/><circle cx="705.5" cy="977.2" r="4.0"/><circle cx="660.4" cy="990.2" r="4.0"/><circle cx="693.2" cy="1002.5" r="4.0"/><circle cx="719.2" cy="1008.0" r="4.0"/><circle cx="730.8" cy="999.8" r="4.0"/><circle cx="703.5" cy="1028.5" r="4.0"/><circle cx="557.1" cy="971.0" r="4.0"/><circle cx="571.5" cy="969.7" r="4.0"/><circle cx="563.9" cy="979.2" r="4.0"/><circle cx="570.1" cy="982.0" r="4.0"/><circle cx="552.3" cy="990.2" r="4.0"/><circle cx="559.8" cy="989.5" r="4.0"/><circle cx="578.3" cy="992.2" r="4.0"/><circle cx="585.1" cy="992.9" r="4.0"/><circle cx="576.3" cy="1002.5" r="4.0"/><circle cx="591.3" cy="1005.9" r="4.0"/><circle cx="587.2" cy="1012.1" r="4.0"/><circle cx="605.0" cy="1005.9" r="4.0"/><circle cx="600.9" cy="1013.4" r="4.0"/><circle cx="599.5" cy="1020.3" r="4.0"/><circle cx="549.6" cy="1027.1" r="4.0"/><circle cx="583.8" cy="1027.8" r="4.0"/><circle cx="576.3" cy="1032.6" r="4.0"/><circle cx="583.8" cy="1050.4" r="4.0"/><circle cx="601.6" cy="1062.0" r="4.0"/><circle cx="646.0" cy="1051.8" r="4.0"/><circle cx="652.9" cy="1051.1" r="4.0"/><circle cx="672.0" cy="1075.7" r="4.0"/><circle cx="540.0" cy="1033.3" r="4.0"/><circle cx="518.4" cy="1008.8" r="4.0"/><circle cx="536.6" cy="1032.7" r="4.0"/><circle cx="586.1" cy="1009.8" r="4.0"/><circle cx="589.2" cy="1015.0" r="4.0"/><circle cx="421.9" cy="842.9" r="4.0"/><circle cx="434.1" cy="843.9" r="4.0"/><circle cx="407.0" cy="846.9" r="4.0"/><circle cx="443.6" cy="849.1" r="4.0"/><circle cx="488.8" cy="847.9" r="4.0"/><circle cx="502.6" cy="849.6" r="4.0"/><circle cx="396.1" cy="854.9" r="4.0"/><circle cx="402.2" cy="853.7" r="4.0"/><circle cx="440.1" cy="853.8" r="4.0"/><circle cx="446.7" cy="855.0" r="4.0"/><circle cx="391.9" cy="859.5" r="4.0"/><circle cx="399.9" cy="860.2" r="4.0"/><circle cx="417.1" cy="859.7" r="4.0"/><circle cx="424.3" cy="860.1" r="4.0"/><circle cx="472.0" cy="861.0" r="4.0"/><circle cx="407.5" cy="864.1" r="4.0"/><circle cx="435.1" cy="865.5" r="4.0"/><circle cx="446.3" cy="864.9" r="4.0"/><circle cx="480.4" cy="864.7" r="4.0"/><circle cx="487.0" cy="866.6" r="4.0"/><circle cx="505.9" cy="864.1" r="4.0"/><circle cx="392.9" cy="872.0" r="4.0"/><circle cx="398.7" cy="870.6" r="4.0"/><circle cx="404.7" cy="870.2" r="4.0"/><circle cx="413.5" cy="870.5" r="4.0"/><circle cx="419.9" cy="872.1" r="4.0"/><circle cx="456.4" cy="871.2" r="4.0"/><circle cx="389.2" cy="876.1" r="4.0"/><circle cx="400.9" cy="875.7" r="4.0"/><circle cx="416.5" cy="876.6" r="4.0"/><circle cx="466.0" cy="877.5" r="4.0"/><circle cx="493.2" cy="876.6" r="4.0"/><circle cx="499.8" cy="876.0" r="4.0"/><circle cx="513.7" cy="875.2" r="4.0"/><circle cx="417.5" cy="882.4" r="4.0"/><circle cx="431.9" cy="880.7" r="4.0"/><circle cx="451.3" cy="882.8" r="4.0"/><circle cx="496.6" cy="883.3" r="4.0"/><circle cx="394.6" cy="886.6" r="4.0"/><circle cx="436.2" cy="888.3" r="4.0"/><circle cx="449.2" cy="888.2" r="4.0"/><circle cx="513.5" cy="887.4" r="4.0"/><circle cx="398.9" cy="892.2" r="4.0"/><circle cx="404.5" cy="892.3" r="4.0"/><circle cx="419.7" cy="892.3" r="4.0"/><circle cx="458.1" cy="893.9" r="4.0"/><circle cx="495.7" cy="892.1" r="4.0"/><circle cx="509.1" cy="892.8" r="4.0"/><circle cx="516.0" cy="892.7" r="4.0"/><circle cx="394.5" cy="899.8" r="4.0"/><circle cx="447.5" cy="897.7" r="4.0"/><circle cx="472.8" cy="899.0" r="4.0"/><circle cx="492.1" cy="899.1" r="4.0"/><circle cx="511.4" cy="899.1" r="4.0"/><circle cx="387.0" cy="903.8" r="4.0"/><circle cx="397.8" cy="905.4" r="4.0"/><circle cx="406.5" cy="904.1" r="4.0"/><circle cx="424.8" cy="904.8" r="4.0"/><circle cx="430.8" cy="903.3" r="4.0"/><circle cx="438.7" cy="903.3" r="4.0"/><circle cx="450.7" cy="903.4" r="4.0"/><circle cx="471.7" cy="905.1" r="4.0"/><circle cx="477.8" cy="904.8" r="4.0"/><circle cx="490.5" cy="906.0" r="4.0"/><circle cx="497.2" cy="905.2" r="4.0"/><circle cx="514.7" cy="903.6" r="4.0"/><circle cx="528.4" cy="903.3" r="4.0"/><circle cx="429.0" cy="909.0" r="4.0"/><circle cx="449.1" cy="911.1" r="4.0"/><circle cx="474.6" cy="911.6" r="4.0"/><circle cx="480.4" cy="911.7" r="4.0"/><circle cx="519.0" cy="909.4" r="4.0"/><circle cx="394.0" cy="916.9" r="4.0"/><circle cx="413.0" cy="915.8" r="4.0"/><circle cx="423.8" cy="916.5" r="4.0"/><circle cx="451.4" cy="916.8" r="4.0"/><circle cx="469.6" cy="915.5" r="4.0"/><circle cx="496.2" cy="917.3" r="4.0"/><circle cx="510.1" cy="916.4" r="4.0"/><circle cx="522.1" cy="916.2" r="4.0"/><circle cx="416.1" cy="922.0" r="4.0"/><circle cx="423.2" cy="922.7" r="4.0"/><circle cx="455.7" cy="921.6" r="4.0"/><circle cx="481.5" cy="921.8" r="4.0"/><circle cx="524.8" cy="921.9" r="4.0"/><circle cx="398.8" cy="927.2" r="4.0"/><circle cx="431.7" cy="927.4" r="4.0"/><circle cx="444.8" cy="927.6" r="4.0"/><circle cx="477.5" cy="928.4" r="4.0"/><circle cx="491.1" cy="927.1" r="4.0"/><circle cx="502.0" cy="925.9" r="4.0"/><circle cx="508.5" cy="927.5" r="4.0"/><circle cx="523.3" cy="928.1" r="4.0"/><circle cx="414.1" cy="932.5" r="4.0"/><circle cx="421.9" cy="932.4" r="4.0"/><circle cx="518.5" cy="933.3" r="4.0"/><circle cx="418.4" cy="938.0" r="4.0"/><circle cx="425.1" cy="937.1" r="4.0"/><circle cx="437.9" cy="938.3" r="4.0"/><circle cx="452.4" cy="939.0" r="4.0"/><circle cx="463.7" cy="939.2" r="4.0"/><circle cx="470.4" cy="938.7" r="4.0"/><circle cx="478.3" cy="938.8" r="4.0"/><circle cx="516.8" cy="939.6" r="4.0"/><circle cx="460.1" cy="944.8" r="4.0"/><circle cx="466.9" cy="944.8" r="4.0"/><circle cx="472.8" cy="944.1" r="4.0"/><circle cx="493.7" cy="943.6" r="4.0"/><circle cx="425.5" cy="950.9" r="4.0"/><circle cx="445.9" cy="951.1" r="4.0"/><circle cx="463.9" cy="950.4" r="4.0"/><circle cx="470.6" cy="949.3" r="4.0"/><circle cx="496.5" cy="949.8" r="4.0"/><circle cx="502.2" cy="949.5" r="4.0"/><circle cx="508.2" cy="948.4" r="4.0"/><circle cx="515.6" cy="948.6" r="4.0"/><circle cx="455.0" cy="955.6" r="4.0"/><circle cx="472.5" cy="955.8" r="4.0"/><circle cx="507.3" cy="954.1" r="4.0"/><circle cx="437.0" cy="960.2" r="4.0"/><circle cx="452.3" cy="961.1" r="4.0"/><circle cx="458.0" cy="960.7" r="4.0"/><circle cx="464.9" cy="961.9" r="4.0"/><circle cx="484.7" cy="960.2" r="4.0"/><circle cx="475.7" cy="972.8" r="4.0"/>
</g>
<line x1="171.0" y1="755.4" x2="731.5" y2="1016.1" stroke="#000" stroke-width="3.2" stroke-linecap="round"/>
<line x1="156.6" y1="849.3" x2="714.0" y2="1105.8" stroke="#ff0000" stroke-width="5.5" stroke-dasharray="34.4 31.0"/>
<polygon points="894.3,872.8 902.6,878.3 910.9,883.8 919.2,889.3 927.5,894.8 935.8,900.3 944.0,905.7 952.3,911.2 960.6,916.6 968.9,922.0 977.2,927.4 985.5,932.7 993.8,938.0 1002.1,943.2 1010.4,948.3 1018.6,953.4 1026.9,958.3 1035.2,963.0 1043.5,967.6 1051.8,971.9 1060.1,976.1 1068.4,980.2 1076.7,984.1 1085.0,987.9 1093.3,991.5 1101.5,995.2 1109.8,998.7 1118.1,1002.2 1126.4,1005.7 1134.7,1009.2 1143.0,1012.6 1151.3,1016.0 1159.6,1019.4 1167.9,1022.8 1176.2,1026.2 1184.5,1029.5 1192.7,1032.9 1201.0,1036.2 1209.3,1039.6 1217.6,1042.9 1225.9,1046.3 1225.9,1098.1 1217.6,1092.6 1209.3,1087.1 1201.0,1081.5 1192.7,1076.0 1184.5,1070.5 1176.2,1065.0 1167.9,1059.5 1159.6,1054.0 1151.3,1048.5 1143.0,1043.1 1134.7,1037.6 1126.4,1032.2 1118.1,1026.8 1109.8,1021.4 1101.5,1016.1 1093.3,1010.9 1085.0,1005.7 1076.7,1000.6 1068.4,995.6 1060.1,990.8 1051.8,986.1 1043.5,981.6 1035.2,977.3 1026.9,973.1 1018.6,969.2 1010.4,965.3 1002.1,961.6 993.8,957.9 985.5,954.3 977.2,950.8 968.9,947.3 960.6,943.8 952.3,940.3 944.0,936.9 935.8,933.5 927.5,930.1 919.2,926.7 910.9,923.4 902.6,920.0 894.3,916.6" fill="#dedede"/>
<g fill="#2775cc" stroke="#08122a" stroke-width="2.4">
<circle cx="894.5" cy="795.4" r="5.3"/><circle cx="928.0" cy="878.4" r="5.3"/><circle cx="925.4" cy="900.9" r="5.3"/><circle cx="991.2" cy="864.0" r="5.3"/><circle cx="992.5" cy="879.0" r="5.3"/><circle cx="967.1" cy="895.3" r="5.3"/><circle cx="974.2" cy="893.4" r="5.3"/><circle cx="1005.5" cy="899.9" r="5.3"/><circle cx="1014.0" cy="899.9" r="5.3"/><circle cx="967.1" cy="915.5" r="5.3"/><circle cx="967.7" cy="922.0" r="5.3"/><circle cx="970.3" cy="932.4" r="5.3"/><circle cx="976.2" cy="942.9" r="5.3"/><circle cx="991.2" cy="933.1" r="5.3"/><circle cx="985.3" cy="953.3" r="5.3"/><circle cx="962.5" cy="955.2" r="5.3"/><circle cx="928.6" cy="967.0" r="5.3"/><circle cx="951.4" cy="970.9" r="5.3"/><circle cx="1023.7" cy="941.6" r="5.3"/><circle cx="1036.8" cy="942.9" r="5.3"/><circle cx="1043.3" cy="932.4" r="5.3"/><circle cx="1042.0" cy="949.4" r="5.3"/><circle cx="1051.1" cy="949.4" r="5.3"/><circle cx="1008.1" cy="950.0" r="5.3"/><circle cx="1018.5" cy="952.6" r="5.3"/><circle cx="1025.7" cy="957.9" r="5.3"/><circle cx="1008.8" cy="959.8" r="5.3"/><circle cx="1000.3" cy="968.9" r="5.3"/><circle cx="1010.7" cy="967.6" r="5.3"/><circle cx="1006.2" cy="980.4" r="5.3"/><circle cx="1009.4" cy="990.2" r="5.3"/><circle cx="1030.3" cy="982.3" r="5.3"/><circle cx="988.0" cy="1000.6" r="5.3"/><circle cx="1035.5" cy="996.0" r="5.3"/><circle cx="1031.6" cy="1007.8" r="5.3"/><circle cx="1041.4" cy="1014.9" r="5.3"/><circle cx="1045.3" cy="1020.1" r="5.3"/><circle cx="1035.5" cy="1022.1" r="5.3"/><circle cx="1047.2" cy="1042.9" r="5.3"/><circle cx="1050.5" cy="1050.1" r="5.3"/><circle cx="1081.8" cy="1074.9" r="5.3"/><circle cx="1063.5" cy="988.9" r="5.3"/><circle cx="1075.9" cy="999.3" r="5.3"/><circle cx="1092.2" cy="1011.0" r="5.3"/><circle cx="1101.0" cy="1010.8" r="5.3"/><circle cx="1107.8" cy="987.4" r="5.3"/><circle cx="1112.9" cy="989.2" r="5.3"/><circle cx="1143.9" cy="961.6" r="5.3"/><circle cx="1147.6" cy="994.6" r="5.3"/><circle cx="1114.3" cy="1032.0" r="5.3"/><circle cx="1101.8" cy="1041.2" r="5.3"/><circle cx="1113.6" cy="1045.6" r="5.3"/><circle cx="1130.0" cy="1040.8" r="5.3"/><circle cx="1171.8" cy="1032.7" r="5.3"/><circle cx="1215.3" cy="1013.6" r="5.3"/><circle cx="1225.8" cy="1022.4" r="5.3"/><circle cx="1222.5" cy="1033.7" r="5.3"/><circle cx="1216.7" cy="1085.8" r="5.3"/>
</g>
<line x1="894.3" y1="894.7" x2="1225.9" y2="1072.2" stroke="#000" stroke-width="3.5" stroke-linecap="round"/>
<line x1="905.4" y1="874.5" x2="1255.9" y2="1005.1" stroke="#ff0000" stroke-width="5.5" stroke-dasharray="35.4 32.4"/>
<polygon points="592.5,1271.9 602.2,1277.9 611.9,1283.9 621.6,1289.9 631.3,1295.9 641.0,1301.9 650.7,1307.8 660.4,1313.8 670.1,1319.7 679.8,1325.6 689.5,1331.4 699.2,1337.2 708.9,1342.9 718.6,1348.6 728.3,1354.1 738.0,1359.4 747.7,1364.7 757.4,1369.7 767.1,1374.7 776.8,1379.5 786.5,1384.3 796.2,1389.0 805.9,1393.6 815.6,1398.2 825.3,1402.8 835.0,1407.4 844.7,1412.0 854.4,1416.5 864.1,1421.1 873.8,1425.6 883.5,1430.1 893.2,1434.6 902.9,1439.2 912.6,1443.7 922.3,1448.2 932.0,1452.7 941.7,1457.2 951.4,1461.7 961.1,1466.2 970.8,1470.7 980.5,1475.2 980.5,1514.8 970.8,1508.8 961.1,1502.8 951.4,1496.7 941.7,1490.7 932.0,1484.7 922.3,1478.7 912.6,1472.7 902.9,1466.6 893.2,1460.6 883.5,1454.6 873.8,1448.6 864.1,1442.6 854.4,1436.6 844.7,1430.7 835.0,1424.7 825.3,1418.8 815.6,1412.8 805.9,1406.9 796.2,1401.1 786.5,1395.2 776.8,1389.5 767.1,1383.8 757.4,1378.2 747.7,1372.7 738.0,1367.4 728.3,1362.3 718.6,1357.3 708.9,1352.4 699.2,1347.6 689.5,1342.8 679.8,1338.2 670.1,1333.5 660.4,1328.9 650.7,1324.3 641.0,1319.7 631.3,1315.2 621.6,1310.6 611.9,1306.1 602.2,1301.6 592.5,1297.1" fill="#dedede"/>
<g fill="#3e86c2" stroke="#0e1620" stroke-width="2.0">
<circle cx="604.3" cy="1258.9" r="4.9"/><circle cx="618.6" cy="1255.6" r="4.9"/><circle cx="634.9" cy="1253.7" r="4.9"/><circle cx="658.4" cy="1271.9" r="4.9"/><circle cx="599.8" cy="1292.8" r="4.9"/><circle cx="612.1" cy="1303.8" r="4.9"/><circle cx="592.6" cy="1312.3" r="4.9"/><circle cx="613.4" cy="1317.5" r="4.9"/><circle cx="640.1" cy="1316.9" r="4.9"/><circle cx="646.0" cy="1324.7" r="4.9"/><circle cx="637.5" cy="1329.9" r="4.9"/><circle cx="635.6" cy="1335.1" r="4.9"/><circle cx="657.1" cy="1306.4" r="4.9"/><circle cx="682.5" cy="1305.8" r="4.9"/><circle cx="705.3" cy="1299.3" r="4.9"/><circle cx="736.6" cy="1294.7" r="4.9"/><circle cx="709.2" cy="1317.5" r="4.9"/><circle cx="707.9" cy="1325.3" r="4.9"/><circle cx="718.3" cy="1325.3" r="4.9"/><circle cx="737.9" cy="1327.3" r="4.9"/><circle cx="758.7" cy="1316.2" r="4.9"/><circle cx="692.3" cy="1329.9" r="4.9"/><circle cx="694.2" cy="1335.8" r="4.9"/><circle cx="599.1" cy="1341.0" r="4.9"/><circle cx="599.1" cy="1358.6" r="4.9"/><circle cx="683.1" cy="1350.7" r="4.9"/><circle cx="661.0" cy="1359.2" r="4.9"/><circle cx="698.1" cy="1363.8" r="4.9"/><circle cx="726.1" cy="1340.3" r="4.9"/><circle cx="718.3" cy="1348.1" r="4.9"/><circle cx="715.7" cy="1359.2" r="4.9"/><circle cx="726.8" cy="1363.1" r="4.9"/><circle cx="752.2" cy="1346.2" r="4.9"/><circle cx="755.5" cy="1353.4" r="4.9"/><circle cx="758.1" cy="1359.2" r="4.9"/><circle cx="752.8" cy="1367.0" r="4.9"/><circle cx="763.3" cy="1372.9" r="4.9"/><circle cx="743.7" cy="1378.1" r="4.9"/><circle cx="748.3" cy="1382.7" r="4.9"/><circle cx="668.2" cy="1385.3" r="4.9"/><circle cx="720.9" cy="1388.5" r="4.9"/><circle cx="777.5" cy="1333.5" r="4.9"/><circle cx="778.5" cy="1371.8" r="4.9"/><circle cx="790.0" cy="1377.9" r="4.9"/><circle cx="831.2" cy="1375.6" r="4.9"/><circle cx="811.0" cy="1400.4" r="4.9"/><circle cx="769.7" cy="1419.8" r="4.9"/><circle cx="773.5" cy="1428.1" r="4.9"/><circle cx="799.7" cy="1422.1" r="4.9"/><circle cx="817.7" cy="1426.6" r="4.9"/><circle cx="828.9" cy="1427.3" r="4.9"/><circle cx="828.2" cy="1441.6" r="4.9"/><circle cx="870.9" cy="1446.8" r="4.9"/><circle cx="888.9" cy="1436.3" r="4.9"/><circle cx="909.1" cy="1438.6" r="4.9"/><circle cx="846.9" cy="1469.3" r="4.9"/><circle cx="874.6" cy="1472.3" r="4.9"/><circle cx="929.3" cy="1473.8" r="4.9"/><circle cx="916.6" cy="1491.8" r="4.9"/><circle cx="954.8" cy="1502.2" r="4.9"/><circle cx="981.0" cy="1502.2" r="4.9"/>
</g>
<line x1="592.5" y1="1284.5" x2="980.5" y2="1495.0" stroke="#000" stroke-width="3.0" stroke-linecap="round"/>
<line x1="563.2" y1="1472.0" x2="963.4" y2="1618.6" stroke="#ff0000" stroke-width="5.0" stroke-dasharray="32.8 32.8"/>
<rect x="108.7" y="18.8" width="614.60" height="545.20" fill="none" stroke="#000" stroke-width="3.6"/>
<line x1="108.7" y1="535.70" x2="118.20" y2="535.70" stroke="#000" stroke-width="3.6"/>
<line x1="108.7" y1="478.30" x2="118.20" y2="478.30" stroke="#000" stroke-width="3.6"/>
<line x1="108.7" y1="420.90" x2="118.20" y2="420.90" stroke="#000" stroke-width="3.6"/>
<line x1="108.7" y1="363.50" x2="118.20" y2="363.50" stroke="#000" stroke-width="3.6"/>
<line x1="108.7" y1="306.10" x2="118.20" y2="306.10" stroke="#000" stroke-width="3.6"/>
<line x1="108.7" y1="248.70" x2="118.20" y2="248.70" stroke="#000" stroke-width="3.6"/>
<line x1="108.7" y1="191.30" x2="118.20" y2="191.30" stroke="#000" stroke-width="3.6"/>
<line x1="108.7" y1="133.90" x2="118.20" y2="133.90" stroke="#000" stroke-width="3.6"/>
<line x1="108.7" y1="76.50" x2="118.20" y2="76.50" stroke="#000" stroke-width="3.6"/>
<line x1="210.97" y1="564" x2="210.97" y2="554.50" stroke="#000" stroke-width="3.06"/>
<line x1="313.43" y1="564" x2="313.43" y2="554.50" stroke="#000" stroke-width="3.06"/>
<line x1="415.90" y1="564" x2="415.90" y2="554.50" stroke="#000" stroke-width="3.06"/>
<line x1="518.37" y1="564" x2="518.37" y2="554.50" stroke="#000" stroke-width="3.06"/>
<line x1="620.83" y1="564" x2="620.83" y2="554.50" stroke="#000" stroke-width="3.06"/>
<text transform="translate(96.84,543.93) scale(0.9220,1)" text-anchor="end" font-family='"Liberation Sans", Arial, sans-serif' font-weight="bold" font-size="27.42" stroke="#000" stroke-width="0.55">0</text>
<text transform="translate(96.84,486.53) scale(0.9220,1)" text-anchor="end" font-family='"Liberation Sans", Arial, sans-serif' font-weight="bold" font-size="27.42" stroke="#000" stroke-width="0.55">500</text>
<text transform="translate(96.87,429.13) scale(0.9220,1)" text-anchor="end" font-family='"Liberation Sans", Arial, sans-serif' font-weight="bold" font-size="27.42" stroke="#000" stroke-width="0.55">1000</text>
<text transform="translate(96.87,371.73) scale(0.9220,1)" text-anchor="end" font-family='"Liberation Sans", Arial, sans-serif' font-weight="bold" font-size="27.42" stroke="#000" stroke-width="0.55">1500</text>
<text transform="translate(96.87,314.33) scale(0.9220,1)" text-anchor="end" font-family='"Liberation Sans", Arial, sans-serif' font-weight="bold" font-size="27.42" stroke="#000" stroke-width="0.55">2000</text>
<text transform="translate(96.87,256.93) scale(0.9220,1)" text-anchor="end" font-family='"Liberation Sans", Arial, sans-serif' font-weight="bold" font-size="27.42" stroke="#000" stroke-width="0.55">2500</text>
<text transform="translate(96.87,199.53) scale(0.9220,1)" text-anchor="end" font-family='"Liberation Sans", Arial, sans-serif' font-weight="bold" font-size="27.42" stroke="#000" stroke-width="0.55">3000</text>
<text transform="translate(96.87,142.13) scale(0.9220,1)" text-anchor="end" font-family='"Liberation Sans", Arial, sans-serif' font-weight="bold" font-size="27.42" stroke="#000" stroke-width="0.55">3500</text>
<text transform="translate(96.87,84.73) scale(0.9220,1)" text-anchor="end" font-family='"Liberation Sans", Arial, sans-serif' font-weight="bold" font-size="27.42" stroke="#000" stroke-width="0.55">4000</text>
<text transform="translate(96.87,27.33) scale(0.9220,1)" text-anchor="end" font-family='"Liberation Sans", Arial, sans-serif' font-weight="bold" font-size="27.42" stroke="#000" stroke-width="0.55">4500</text>
<text transform="translate(82.95,597.92) scale(0.9533,1)" font-family='"Liberation Sans", Arial, sans-serif' font-weight="bold" font-size="27.56" fill="#000" stroke="#000" stroke-width="0.55">0.00</text>
<text transform="translate(185.25,597.92) scale(0.9533,1)" font-family='"Liberation Sans", Arial, sans-serif' font-weight="bold" font-size="27.56" fill="#000" stroke="#000" stroke-width="0.55">0.15</text>
<text transform="translate(287.88,597.86) scale(0.9566,1)" font-family='"Liberation Sans", Arial, sans-serif' font-weight="bold" font-size="27.46" fill="#000" stroke="#000" stroke-width="0.55">0.30</text>
<text transform="translate(390.18,597.92) scale(0.9533,1)" font-family='"Liberation Sans", Arial, sans-serif' font-weight="bold" font-size="27.56" fill="#000" stroke="#000" stroke-width="0.55">0.45</text>
<text transform="translate(492.82,597.92) scale(0.9533,1)" font-family='"Liberation Sans", Arial, sans-serif' font-weight="bold" font-size="27.56" fill="#000" stroke="#000" stroke-width="0.55">0.60</text>
<text transform="translate(595.12,597.92) scale(0.9533,1)" font-family='"Liberation Sans", Arial, sans-serif' font-weight="bold" font-size="27.56" fill="#000" stroke="#000" stroke-width="0.55">0.75</text>
<text transform="translate(697.75,597.92) scale(0.9533,1)" font-family='"Liberation Sans", Arial, sans-serif' font-weight="bold" font-size="27.56" fill="#000" stroke="#000" stroke-width="0.55">0.90</text>
<text transform="translate(122.68,59.20) scale(1.0079,1)" font-family='"Liberation Sans", Arial, sans-serif' font-weight="bold" font-size="32.73" fill="#000" stroke="#000" stroke-width="0.55">A</text>
<text transform="translate(457.04,67.10) scale(0.8739,1)" font-family='"Liberation Sans", Arial, sans-serif' font-weight="bold" font-size="29.38" fill="#000" stroke="#000" stroke-width="0.55">TRFE</text>
<text transform="translate(424.19,114.70) scale(0.9777,1)" font-family='"Liberation Sans", Arial, sans-serif' font-weight="bold" font-size="27.49" fill="#000" stroke="#000" stroke-width="0.55">R</text>
<text transform="translate(443.40,104.30) scale(0.9193,1)" font-family='"Liberation Sans", Arial, sans-serif' font-weight="bold" font-size="28.10" fill="#000" stroke="#000" stroke-width="1.0">2</text>
<text transform="translate(463.97,115.23) scale(0.9717,1)" font-family='"Liberation Sans", Arial, sans-serif' font-weight="bold" font-size="27.28" fill="#000" stroke="#000" stroke-width="0.55">= 0.7116</text>
<text transform="translate(425.23,150.94) scale(0.9930,1)" font-family='"Liberation Sans", Arial, sans-serif' font-weight="bold" font-size="25.87" fill="#000" stroke="#000" stroke-width="0.55">S = -0.0002</text>
<text transform="translate(424.25,187.43) scale(0.9718,1)" font-family='"Liberation Sans", Arial, sans-serif' font-weight="bold" font-size="26.71" fill="#000" stroke="#000" stroke-width="0.55">P &lt; 0.05</text>
<text transform="translate(30.07,379.78) rotate(-90) scale(1.0671,1)" font-family='"Liberation Sans", Arial, sans-serif' font-weight="bold" font-size="26.17" stroke="#000" stroke-width="0.55">Elevation (m)</text>
<rect x="826.6" y="18.8" width="678.90" height="545.20" fill="none" stroke="#000" stroke-width="3.6"/>
<line x1="826.6" y1="535.70" x2="836.10" y2="535.70" stroke="#000" stroke-width="3.6"/>
<line x1="826.6" y1="478.30" x2="836.10" y2="478.30" stroke="#000" stroke-width="3.6"/>
<line x1="826.6" y1="420.90" x2="836.10" y2="420.90" stroke="#000" stroke-width="3.6"/>
<line x1="826.6" y1="363.50" x2="836.10" y2="363.50" stroke="#000" stroke-width="3.6"/>
<line x1="826.6" y1="306.10" x2="836.10" y2="306.10" stroke="#000" stroke-width="3.6"/>
<line x1="826.6" y1="248.70" x2="836.10" y2="248.70" stroke="#000" stroke-width="3.6"/>
<line x1="826.6" y1="191.30" x2="836.10" y2="191.30" stroke="#000" stroke-width="3.6"/>
<line x1="826.6" y1="133.90" x2="836.10" y2="133.90" stroke="#000" stroke-width="3.6"/>
<line x1="826.6" y1="76.50" x2="836.10" y2="76.50" stroke="#000" stroke-width="3.6"/>
<line x1="928.50" y1="564" x2="928.50" y2="554.50" stroke="#000" stroke-width="3.06"/>
<line x1="1030.30" y1="564" x2="1030.30" y2="554.50" stroke="#000" stroke-width="3.06"/>
<line x1="1132.10" y1="564" x2="1132.10" y2="554.50" stroke="#000" stroke-width="3.06"/>
<line x1="1233.90" y1="564" x2="1233.90" y2="554.50" stroke="#000" stroke-width="3.06"/>
<line x1="1335.70" y1="564" x2="1335.70" y2="554.50" stroke="#000" stroke-width="3.06"/>
<line x1="1437.50" y1="564" x2="1437.50" y2="554.50" stroke="#000" stroke-width="3.06"/>
<text transform="translate(813.66,543.93) scale(1.0263,1)" text-anchor="end" font-family='"Liberation Sans", Arial, sans-serif' font-weight="bold" font-size="27.42" stroke="#000" stroke-width="0.55">0</text>
<text transform="translate(813.65,486.53) scale(1.0263,1)" text-anchor="end" font-family='"Liberation Sans", Arial, sans-serif' font-weight="bold" font-size="27.42" stroke="#000" stroke-width="0.55">500</text>
<text transform="translate(813.69,429.13) scale(1.0263,1)" text-anchor="end" font-family='"Liberation Sans", Arial, sans-serif' font-weight="bold" font-size="27.42" stroke="#000" stroke-width="0.55">1000</text>
<text transform="translate(813.69,371.73) scale(1.0263,1)" text-anchor="end" font-family='"Liberation Sans", Arial, sans-serif' font-weight="bold" font-size="27.42" stroke="#000" stroke-width="0.55">1500</text>
<text transform="translate(813.69,314.33) scale(1.0263,1)" text-anchor="end" font-family='"Liberation Sans", Arial, sans-serif' font-weight="bold" font-size="27.42" stroke="#000" stroke-width="0.55">2000</text>
<text transform="translate(813.69,256.93) scale(1.0263,1)" text-anchor="end" font-family='"Liberation Sans", Arial, sans-serif' font-weight="bold" font-size="27.42" stroke="#000" stroke-width="0.55">2500</text>
<text transform="translate(813.69,199.53) scale(1.0263,1)" text-anchor="end" font-family='"Liberation Sans", Arial, sans-serif' font-weight="bold" font-size="27.42" stroke="#000" stroke-width="0.55">3000</text>
<text transform="translate(813.69,142.13) scale(1.0263,1)" text-anchor="end" font-family='"Liberation Sans", Arial, sans-serif' font-weight="bold" font-size="27.42" stroke="#000" stroke-width="0.55">3500</text>
<text transform="translate(813.69,84.73) scale(1.0263,1)" text-anchor="end" font-family='"Liberation Sans", Arial, sans-serif' font-weight="bold" font-size="27.42" stroke="#000" stroke-width="0.55">4000</text>
<text transform="translate(813.69,27.33) scale(1.0263,1)" text-anchor="end" font-family='"Liberation Sans", Arial, sans-serif' font-weight="bold" font-size="27.42" stroke="#000" stroke-width="0.55">4500</text>
<text transform="translate(799.22,598.13) scale(1.0578,1)" font-family='"Liberation Sans", Arial, sans-serif' font-weight="bold" font-size="26.71" fill="#000" stroke="#000" stroke-width="0.55">0.00</text>
<text transform="translate(900.84,598.13) scale(1.0578,1)" font-family='"Liberation Sans", Arial, sans-serif' font-weight="bold" font-size="26.71" fill="#000" stroke="#000" stroke-width="0.55">0.15</text>
<text transform="translate(1002.82,598.07) scale(1.0615,1)" font-family='"Liberation Sans", Arial, sans-serif' font-weight="bold" font-size="26.62" fill="#000" stroke="#000" stroke-width="0.55">0.30</text>
<text transform="translate(1104.44,598.13) scale(1.0578,1)" font-family='"Liberation Sans", Arial, sans-serif' font-weight="bold" font-size="26.71" fill="#000" stroke="#000" stroke-width="0.55">0.45</text>
<text transform="translate(1206.42,598.13) scale(1.0578,1)" font-family='"Liberation Sans", Arial, sans-serif' font-weight="bold" font-size="26.71" fill="#000" stroke="#000" stroke-width="0.55">0.60</text>
<text transform="translate(1308.04,598.13) scale(1.0578,1)" font-family='"Liberation Sans", Arial, sans-serif' font-weight="bold" font-size="26.71" fill="#000" stroke="#000" stroke-width="0.55">0.75</text>
<text transform="translate(1410.02,598.13) scale(1.0578,1)" font-family='"Liberation Sans", Arial, sans-serif' font-weight="bold" font-size="26.71" fill="#000" stroke="#000" stroke-width="0.55">0.90</text>
<text transform="translate(844.93,58.60) scale(1.0746,1)" font-family='"Liberation Sans", Arial, sans-serif' font-weight="bold" font-size="31.27" fill="#000" stroke="#000" stroke-width="0.55">B</text>
<text transform="translate(1209.04,58.80) scale(0.9719,1)" font-family='"Liberation Sans", Arial, sans-serif' font-weight="bold" font-size="29.54" fill="#000" stroke="#000" stroke-width="0.55">SEFE</text>
<text transform="translate(1172.16,98.20) scale(0.9465,1)" font-family='"Liberation Sans", Arial, sans-serif' font-weight="bold" font-size="30.40" fill="#000" stroke="#000" stroke-width="0.55">R</text>
<text transform="translate(1193.64,87.10) scale(1.0664,1)" font-family='"Liberation Sans", Arial, sans-serif' font-weight="bold" font-size="17.78" fill="#000" stroke="#000" stroke-width="1.0">2</text>
<text transform="translate(1209.41,98.30) scale(0.9407,1)" font-family='"Liberation Sans", Arial, sans-serif' font-weight="bold" font-size="29.68" fill="#000" stroke="#000" stroke-width="0.55">= 0.5751</text>
<text transform="translate(1172.65,134.41) scale(0.9966,1)" font-family='"Liberation Sans", Arial, sans-serif' font-weight="bold" font-size="28.55" fill="#000" stroke="#000" stroke-width="0.55">S = -0.0002</text>
<text transform="translate(1171.56,170.22) scale(1.0446,1)" font-family='"Liberation Sans", Arial, sans-serif' font-weight="bold" font-size="27.56" fill="#000" stroke="#000" stroke-width="0.55">P &lt; 0.05</text>
<rect x="103.7" y="626.5" width="640.90" height="552.70" fill="none" stroke="#000" stroke-width="3.6"/>
<line x1="103.7" y1="1148.90" x2="113.20" y2="1148.90" stroke="#000" stroke-width="3.6"/>
<line x1="103.7" y1="1086.70" x2="113.20" y2="1086.70" stroke="#000" stroke-width="3.6"/>
<line x1="103.7" y1="1024.50" x2="113.20" y2="1024.50" stroke="#000" stroke-width="3.6"/>
<line x1="103.7" y1="962.30" x2="113.20" y2="962.30" stroke="#000" stroke-width="3.6"/>
<line x1="103.7" y1="900.10" x2="113.20" y2="900.10" stroke="#000" stroke-width="3.6"/>
<line x1="103.7" y1="837.90" x2="113.20" y2="837.90" stroke="#000" stroke-width="3.6"/>
<line x1="103.7" y1="775.70" x2="113.20" y2="775.70" stroke="#000" stroke-width="3.6"/>
<line x1="103.7" y1="713.50" x2="113.20" y2="713.50" stroke="#000" stroke-width="3.6"/>
<line x1="103.7" y1="651.30" x2="113.20" y2="651.30" stroke="#000" stroke-width="3.6"/>
<line x1="167.10" y1="1179.2" x2="167.10" y2="1169.70" stroke="#000" stroke-width="3.06"/>
<line x1="263.35" y1="1179.2" x2="263.35" y2="1169.70" stroke="#000" stroke-width="3.06"/>
<line x1="359.60" y1="1179.2" x2="359.60" y2="1169.70" stroke="#000" stroke-width="3.06"/>
<line x1="455.85" y1="1179.2" x2="455.85" y2="1169.70" stroke="#000" stroke-width="3.06"/>
<line x1="552.10" y1="1179.2" x2="552.10" y2="1169.70" stroke="#000" stroke-width="3.06"/>
<line x1="648.35" y1="1179.2" x2="648.35" y2="1169.70" stroke="#000" stroke-width="3.06"/>
<text transform="translate(92.83,1157.88) scale(1.0040,1)" text-anchor="end" font-family='"Liberation Serif", "Times New Roman", serif' font-weight="bold" font-size="27.41" stroke="#000" stroke-width="0.55">0</text>
<text transform="translate(92.83,1095.68) scale(1.0040,1)" text-anchor="end" font-family='"Liberation Serif", "Times New Roman", serif' font-weight="bold" font-size="27.41" stroke="#000" stroke-width="0.55">500</text>
<text transform="translate(92.83,1033.48) scale(1.0040,1)" text-anchor="end" font-family='"Liberation Serif", "Times New Roman", serif' font-weight="bold" font-size="27.41" stroke="#000" stroke-width="0.55">1000</text>
<text transform="translate(92.83,971.28) scale(1.0040,1)" text-anchor="end" font-family='"Liberation Serif", "Times New Roman", serif' font-weight="bold" font-size="27.41" stroke="#000" stroke-width="0.55">1500</text>
<text transform="translate(92.83,909.08) scale(1.0040,1)" text-anchor="end" font-family='"Liberation Serif", "Times New Roman", serif' font-weight="bold" font-size="27.41" stroke="#000" stroke-width="0.55">2000</text>
<text transform="translate(92.83,846.88) scale(1.0040,1)" text-anchor="end" font-family='"Liberation Serif", "Times New Roman", serif' font-weight="bold" font-size="27.41" stroke="#000" stroke-width="0.55">2500</text>
<text transform="translate(92.83,784.68) scale(1.0040,1)" text-anchor="end" font-family='"Liberation Serif", "Times New Roman", serif' font-weight="bold" font-size="27.41" stroke="#000" stroke-width="0.55">3000</text>
<text transform="translate(92.83,722.48) scale(1.0040,1)" text-anchor="end" font-family='"Liberation Serif", "Times New Roman", serif' font-weight="bold" font-size="27.41" stroke="#000" stroke-width="0.55">3500</text>
<text transform="translate(92.83,660.28) scale(1.0040,1)" text-anchor="end" font-family='"Liberation Serif", "Times New Roman", serif' font-weight="bold" font-size="27.41" stroke="#000" stroke-width="0.55">4000</text>
<text transform="translate(140.61,1214.42) scale(0.9782,1)" font-family='"Liberation Sans", Arial, sans-serif' font-weight="bold" font-size="27.84" fill="#000" stroke="#000" stroke-width="0.55">0.00</text>
<text transform="translate(236.69,1214.42) scale(0.9782,1)" font-family='"Liberation Sans", Arial, sans-serif' font-weight="bold" font-size="27.84" fill="#000" stroke="#000" stroke-width="0.55">0.15</text>
<text transform="translate(333.11,1214.35) scale(0.9817,1)" font-family='"Liberation Sans", Arial, sans-serif' font-weight="bold" font-size="27.75" fill="#000" stroke="#000" stroke-width="0.55">0.30</text>
<text transform="translate(429.19,1214.42) scale(0.9782,1)" font-family='"Liberation Sans", Arial, sans-serif' font-weight="bold" font-size="27.84" fill="#000" stroke="#000" stroke-width="0.55">0.45</text>
<text transform="translate(525.61,1214.42) scale(0.9782,1)" font-family='"Liberation Sans", Arial, sans-serif' font-weight="bold" font-size="27.84" fill="#000" stroke="#000" stroke-width="0.55">0.60</text>
<text transform="translate(621.69,1214.42) scale(0.9782,1)" font-family='"Liberation Sans", Arial, sans-serif' font-weight="bold" font-size="27.84" fill="#000" stroke="#000" stroke-width="0.55">0.75</text>
<text transform="translate(718.40,1214.42) scale(0.9782,1)" font-family='"Liberation Sans", Arial, sans-serif' font-weight="bold" font-size="27.84" fill="#000" stroke="#000" stroke-width="0.55">0.9</text>
<text transform="translate(123.80,671.97) scale(0.9047,1)" font-family='"Liberation Sans", Arial, sans-serif' font-weight="bold" font-size="33.07" fill="#000" stroke="#000" stroke-width="0.55">C</text>
<text transform="translate(543.58,679.70) scale(0.9173,1)" font-family='"Liberation Sans", Arial, sans-serif' font-weight="bold" font-size="29.38" fill="#000" stroke="#000" stroke-width="0.55">NEFE</text>
<text transform="translate(510.29,719.50) scale(0.9148,1)" font-family='"Liberation Sans", Arial, sans-serif' font-weight="bold" font-size="29.38" fill="#000" stroke="#000" stroke-width="0.55">R</text>
<text transform="translate(530.33,707.10) scale(1.2044,1)" font-family='"Liberation Sans", Arial, sans-serif' font-weight="bold" font-size="15.91" fill="#000" stroke="#000" stroke-width="1.0">2</text>
<text transform="translate(544.86,719.71) scale(0.9278,1)" font-family='"Liberation Sans", Arial, sans-serif' font-weight="bold" font-size="28.83" fill="#000" stroke="#000" stroke-width="0.55">= 0.5024</text>
<text transform="translate(511.30,755.70) scale(0.9038,1)" font-family='"Liberation Sans", Arial, sans-serif' font-weight="bold" font-size="29.54" fill="#000" stroke="#000" stroke-width="0.55">S = -0.0002</text>
<text transform="translate(510.26,792.11) scale(0.9261,1)" font-family='"Liberation Sans", Arial, sans-serif' font-weight="bold" font-size="29.40" fill="#000" stroke="#000" stroke-width="0.55">P &lt; 0.05</text>
<text transform="translate(27.33,994.36) rotate(-90) scale(1.0620,1)" font-family='"Liberation Sans", Arial, sans-serif' font-weight="bold" font-size="27.35" stroke="#000" stroke-width="0.55">Elevation (m)</text>
<rect x="834.4" y="623" width="667.60" height="552.60" fill="none" stroke="#000" stroke-width="3.6"/>
<line x1="834.4" y1="1146.90" x2="843.90" y2="1146.90" stroke="#000" stroke-width="3.6"/>
<line x1="834.4" y1="1088.55" x2="843.90" y2="1088.55" stroke="#000" stroke-width="3.6"/>
<line x1="834.4" y1="1030.20" x2="843.90" y2="1030.20" stroke="#000" stroke-width="3.6"/>
<line x1="834.4" y1="971.85" x2="843.90" y2="971.85" stroke="#000" stroke-width="3.6"/>
<line x1="834.4" y1="913.50" x2="843.90" y2="913.50" stroke="#000" stroke-width="3.6"/>
<line x1="834.4" y1="855.15" x2="843.90" y2="855.15" stroke="#000" stroke-width="3.6"/>
<line x1="834.4" y1="796.80" x2="843.90" y2="796.80" stroke="#000" stroke-width="3.6"/>
<line x1="834.4" y1="738.45" x2="843.90" y2="738.45" stroke="#000" stroke-width="3.6"/>
<line x1="834.4" y1="680.10" x2="843.90" y2="680.10" stroke="#000" stroke-width="3.6"/>
<line x1="945.67" y1="1175.6" x2="945.67" y2="1166.10" stroke="#000" stroke-width="3.06"/>
<line x1="1056.93" y1="1175.6" x2="1056.93" y2="1166.10" stroke="#000" stroke-width="3.06"/>
<line x1="1168.20" y1="1175.6" x2="1168.20" y2="1166.10" stroke="#000" stroke-width="3.06"/>
<line x1="1279.47" y1="1175.6" x2="1279.47" y2="1166.10" stroke="#000" stroke-width="3.06"/>
<line x1="1390.73" y1="1175.6" x2="1390.73" y2="1166.10" stroke="#000" stroke-width="3.06"/>
<text transform="translate(821.33,1156.18) scale(1.0203,1)" text-anchor="end" font-family='"Liberation Sans", Arial, sans-serif' font-weight="bold" font-size="27.00" stroke="#000" stroke-width="0.55">0</text>
<text transform="translate(821.33,1097.83) scale(1.0203,1)" text-anchor="end" font-family='"Liberation Sans", Arial, sans-serif' font-weight="bold" font-size="27.00" stroke="#000" stroke-width="0.55">500</text>
<text transform="translate(821.36,1039.48) scale(1.0203,1)" text-anchor="end" font-family='"Liberation Sans", Arial, sans-serif' font-weight="bold" font-size="27.00" stroke="#000" stroke-width="0.55">1000</text>
<text transform="translate(821.36,981.13) scale(1.0203,1)" text-anchor="end" font-family='"Liberation Sans", Arial, sans-serif' font-weight="bold" font-size="27.00" stroke="#000" stroke-width="0.55">1500</text>
<text transform="translate(821.36,922.78) scale(1.0203,1)" text-anchor="end" font-family='"Liberation Sans", Arial, sans-serif' font-weight="bold" font-size="27.00" stroke="#000" stroke-width="0.55">2000</text>
<text transform="translate(821.36,864.43) scale(1.0203,1)" text-anchor="end" font-family='"Liberation Sans", Arial, sans-serif' font-weight="bold" font-size="27.00" stroke="#000" stroke-width="0.55">2500</text>
<text transform="translate(821.36,806.08) scale(1.0203,1)" text-anchor="end" font-family='"Liberation Sans", Arial, sans-serif' font-weight="bold" font-size="27.00" stroke="#000" stroke-width="0.55">3000</text>
<text transform="translate(821.36,747.73) scale(1.0203,1)" text-anchor="end" font-family='"Liberation Sans", Arial, sans-serif' font-weight="bold" font-size="27.00" stroke="#000" stroke-width="0.55">3500</text>
<text transform="translate(821.36,689.38) scale(1.0203,1)" text-anchor="end" font-family='"Liberation Sans", Arial, sans-serif' font-weight="bold" font-size="27.00" stroke="#000" stroke-width="0.55">4000</text>
<text transform="translate(821.36,631.03) scale(1.0203,1)" text-anchor="end" font-family='"Liberation Sans", Arial, sans-serif' font-weight="bold" font-size="27.00" stroke="#000" stroke-width="0.55">4500</text>
<text transform="translate(807.23,1210.72) scale(1.0136,1)" font-family='"Liberation Sans", Arial, sans-serif' font-weight="bold" font-size="27.56" fill="#000" stroke="#000" stroke-width="0.55">0.00</text>
<text transform="translate(918.32,1210.72) scale(1.0136,1)" font-family='"Liberation Sans", Arial, sans-serif' font-weight="bold" font-size="27.56" fill="#000" stroke="#000" stroke-width="0.55">0.15</text>
<text transform="translate(1029.77,1210.66) scale(1.0171,1)" font-family='"Liberation Sans", Arial, sans-serif' font-weight="bold" font-size="27.46" fill="#000" stroke="#000" stroke-width="0.55">0.30</text>
<text transform="translate(1140.86,1210.72) scale(1.0136,1)" font-family='"Liberation Sans", Arial, sans-serif' font-weight="bold" font-size="27.56" fill="#000" stroke="#000" stroke-width="0.55">0.45</text>
<text transform="translate(1252.30,1210.72) scale(1.0136,1)" font-family='"Liberation Sans", Arial, sans-serif' font-weight="bold" font-size="27.56" fill="#000" stroke="#000" stroke-width="0.55">0.60</text>
<text transform="translate(1363.39,1210.72) scale(1.0136,1)" font-family='"Liberation Sans", Arial, sans-serif' font-weight="bold" font-size="27.56" fill="#000" stroke="#000" stroke-width="0.55">0.75</text>
<text transform="translate(1474.83,1210.72) scale(1.0136,1)" font-family='"Liberation Sans", Arial, sans-serif' font-weight="bold" font-size="27.56" fill="#000" stroke="#000" stroke-width="0.55">0.90</text>
<text transform="translate(846.46,670.50) scale(1.0129,1)" font-family='"Liberation Sans", Arial, sans-serif' font-weight="bold" font-size="29.82" fill="#000" stroke="#000" stroke-width="0.55">D</text>
<text transform="translate(1240.63,667.80) scale(0.9158,1)" font-family='"Liberation Sans", Arial, sans-serif' font-weight="bold" font-size="30.25" fill="#000" stroke="#000" stroke-width="0.55">EHEF</text>
<text transform="translate(1204.12,707.50) scale(0.9197,1)" font-family='"Liberation Sans", Arial, sans-serif' font-weight="bold" font-size="30.25" fill="#000" stroke="#000" stroke-width="0.55">R</text>
<text transform="translate(1225.78,693.80) scale(0.9920,1)" font-family='"Liberation Sans", Arial, sans-serif' font-weight="bold" font-size="14.91" fill="#000" stroke="#000" stroke-width="1.0">2</text>
<text transform="translate(1241.32,707.70) scale(0.9355,1)" font-family='"Liberation Sans", Arial, sans-serif' font-weight="bold" font-size="29.68" fill="#000" stroke="#000" stroke-width="0.55">= 0.5045</text>
<text transform="translate(1205.18,743.71) scale(0.9318,1)" font-family='"Liberation Sans", Arial, sans-serif' font-weight="bold" font-size="29.40" fill="#000" stroke="#000" stroke-width="0.55">S = -0.0001</text>
<text transform="translate(1204.09,780.20) scale(0.9579,1)" font-family='"Liberation Sans", Arial, sans-serif' font-weight="bold" font-size="29.54" fill="#000" stroke="#000" stroke-width="0.55">P &lt; 0.05</text>
<rect x="521.2" y="1227.5" width="649.20" height="515.50" fill="none" stroke="#000" stroke-width="3.6"/>
<line x1="521.2" y1="1717.30" x2="530.70" y2="1717.30" stroke="#000" stroke-width="3.6"/>
<line x1="521.2" y1="1666.15" x2="530.70" y2="1666.15" stroke="#000" stroke-width="3.6"/>
<line x1="521.2" y1="1615.00" x2="530.70" y2="1615.00" stroke="#000" stroke-width="3.6"/>
<line x1="521.2" y1="1563.85" x2="530.70" y2="1563.85" stroke="#000" stroke-width="3.6"/>
<line x1="521.2" y1="1512.70" x2="530.70" y2="1512.70" stroke="#000" stroke-width="3.6"/>
<line x1="521.2" y1="1461.55" x2="530.70" y2="1461.55" stroke="#000" stroke-width="3.6"/>
<line x1="521.2" y1="1410.40" x2="530.70" y2="1410.40" stroke="#000" stroke-width="3.6"/>
<line x1="521.2" y1="1359.25" x2="530.70" y2="1359.25" stroke="#000" stroke-width="3.6"/>
<line x1="521.2" y1="1308.10" x2="530.70" y2="1308.10" stroke="#000" stroke-width="3.6"/>
<line x1="521.2" y1="1256.95" x2="530.70" y2="1256.95" stroke="#000" stroke-width="3.6"/>
<line x1="586.00" y1="1743" x2="586.00" y2="1733.50" stroke="#000" stroke-width="3.06"/>
<line x1="683.43" y1="1743" x2="683.43" y2="1733.50" stroke="#000" stroke-width="3.06"/>
<line x1="780.87" y1="1743" x2="780.87" y2="1733.50" stroke="#000" stroke-width="3.06"/>
<line x1="878.30" y1="1743" x2="878.30" y2="1733.50" stroke="#000" stroke-width="3.06"/>
<line x1="975.73" y1="1743" x2="975.73" y2="1733.50" stroke="#000" stroke-width="3.06"/>
<line x1="1073.17" y1="1743" x2="1073.17" y2="1733.50" stroke="#000" stroke-width="3.06"/>
<text transform="translate(508.58,1725.90) scale(1.0512,1)" text-anchor="end" font-family='"Liberation Sans", Arial, sans-serif' font-weight="bold" font-size="25.02" stroke="#000" stroke-width="0.55">0</text>
<text transform="translate(508.58,1674.75) scale(1.0512,1)" text-anchor="end" font-family='"Liberation Sans", Arial, sans-serif' font-weight="bold" font-size="25.02" stroke="#000" stroke-width="0.55">500</text>
<text transform="translate(508.61,1623.60) scale(1.0512,1)" text-anchor="end" font-family='"Liberation Sans", Arial, sans-serif' font-weight="bold" font-size="25.02" stroke="#000" stroke-width="0.55">1000</text>
<text transform="translate(508.61,1572.45) scale(1.0512,1)" text-anchor="end" font-family='"Liberation Sans", Arial, sans-serif' font-weight="bold" font-size="25.02" stroke="#000" stroke-width="0.55">1500</text>
<text transform="translate(508.61,1521.30) scale(1.0512,1)" text-anchor="end" font-family='"Liberation Sans", Arial, sans-serif' font-weight="bold" font-size="25.02" stroke="#000" stroke-width="0.55">2000</text>
<text transform="translate(508.61,1470.15) scale(1.0512,1)" text-anchor="end" font-family='"Liberation Sans", Arial, sans-serif' font-weight="bold" font-size="25.02" stroke="#000" stroke-width="0.55">2500</text>
<text transform="translate(508.61,1419.00) scale(1.0512,1)" text-anchor="end" font-family='"Liberation Sans", Arial, sans-serif' font-weight="bold" font-size="25.02" stroke="#000" stroke-width="0.55">3000</text>
<text transform="translate(508.61,1367.85) scale(1.0512,1)" text-anchor="end" font-family='"Liberation Sans", Arial, sans-serif' font-weight="bold" font-size="25.02" stroke="#000" stroke-width="0.55">3500</text>
<text transform="translate(508.61,1316.70) scale(1.0512,1)" text-anchor="end" font-family='"Liberation Sans", Arial, sans-serif' font-weight="bold" font-size="25.02" stroke="#000" stroke-width="0.55">4000</text>
<text transform="translate(508.61,1265.55) scale(1.0512,1)" text-anchor="end" font-family='"Liberation Sans", Arial, sans-serif' font-weight="bold" font-size="25.02" stroke="#000" stroke-width="0.55">4500</text>
<text transform="translate(559.51,1775.73) scale(1.0143,1)" font-family='"Liberation Sans", Arial, sans-serif' font-weight="bold" font-size="26.86" fill="#000" stroke="#000" stroke-width="0.55">0.00</text>
<text transform="translate(656.77,1775.73) scale(1.0143,1)" font-family='"Liberation Sans", Arial, sans-serif' font-weight="bold" font-size="26.86" fill="#000" stroke="#000" stroke-width="0.55">0.15</text>
<text transform="translate(754.38,1775.67) scale(1.0179,1)" font-family='"Liberation Sans", Arial, sans-serif' font-weight="bold" font-size="26.76" fill="#000" stroke="#000" stroke-width="0.55">0.30</text>
<text transform="translate(851.64,1775.73) scale(1.0143,1)" font-family='"Liberation Sans", Arial, sans-serif' font-weight="bold" font-size="26.86" fill="#000" stroke="#000" stroke-width="0.55">0.45</text>
<text transform="translate(949.24,1775.73) scale(1.0143,1)" font-family='"Liberation Sans", Arial, sans-serif' font-weight="bold" font-size="26.86" fill="#000" stroke="#000" stroke-width="0.55">0.60</text>
<text transform="translate(1046.51,1775.73) scale(1.0143,1)" font-family='"Liberation Sans", Arial, sans-serif' font-weight="bold" font-size="26.86" fill="#000" stroke="#000" stroke-width="0.55">0.75</text>
<text transform="translate(1144.11,1775.73) scale(1.0143,1)" font-family='"Liberation Sans", Arial, sans-serif' font-weight="bold" font-size="26.86" fill="#000" stroke="#000" stroke-width="0.55">0.90</text>
<text transform="translate(539.47,1263.00) scale(1.0094,1)" font-family='"Liberation Sans", Arial, sans-serif' font-weight="bold" font-size="32.73" fill="#000" stroke="#000" stroke-width="0.55">E</text>
<text transform="translate(895.61,1277.52) scale(0.9873,1)" font-family='"Liberation Sans", Arial, sans-serif' font-weight="bold" font-size="27.70" fill="#000" stroke="#000" stroke-width="0.55">CME</text>
<text transform="translate(862.30,1314.90) scale(0.9420,1)" font-family='"Liberation Sans", Arial, sans-serif' font-weight="bold" font-size="28.36" fill="#000" stroke="#000" stroke-width="0.55">R</text>
<text transform="translate(883.02,1302.50) scale(1.1038,1)" font-family='"Liberation Sans", Arial, sans-serif' font-weight="bold" font-size="14.91" fill="#000" stroke="#000" stroke-width="1.0">2</text>
<text transform="translate(899.44,1315.02) scale(0.9867,1)" font-family='"Liberation Sans", Arial, sans-serif' font-weight="bold" font-size="27.70" fill="#000" stroke="#000" stroke-width="0.55">= 0.7472</text>
<text transform="translate(862.69,1348.53) scale(1.0126,1)" font-family='"Liberation Sans", Arial, sans-serif' font-weight="bold" font-size="26.71" fill="#000" stroke="#000" stroke-width="0.55">S = -0.0002</text>
<text transform="translate(861.64,1383.04) scale(1.0712,1)" font-family='"Liberation Sans", Arial, sans-serif' font-weight="bold" font-size="25.72" fill="#000" stroke="#000" stroke-width="0.55">P &lt; 0.05</text>
<text transform="translate(782.40,1813.16) scale(1.0531,1)" font-family='"Liberation Sans", Arial, sans-serif' font-weight="bold" font-size="25.74" fill="#000" stroke="#000" stroke-width="0.55">VPD (kPa)</text>
<text transform="translate(437.44,1569.13) rotate(-90) scale(1.0100,1)" font-family='"Liberation Sans", Arial, sans-serif' font-weight="bold" font-size="26.81" stroke="#000" stroke-width="0.55">Elevation (m)</text>
</svg></body></html>
